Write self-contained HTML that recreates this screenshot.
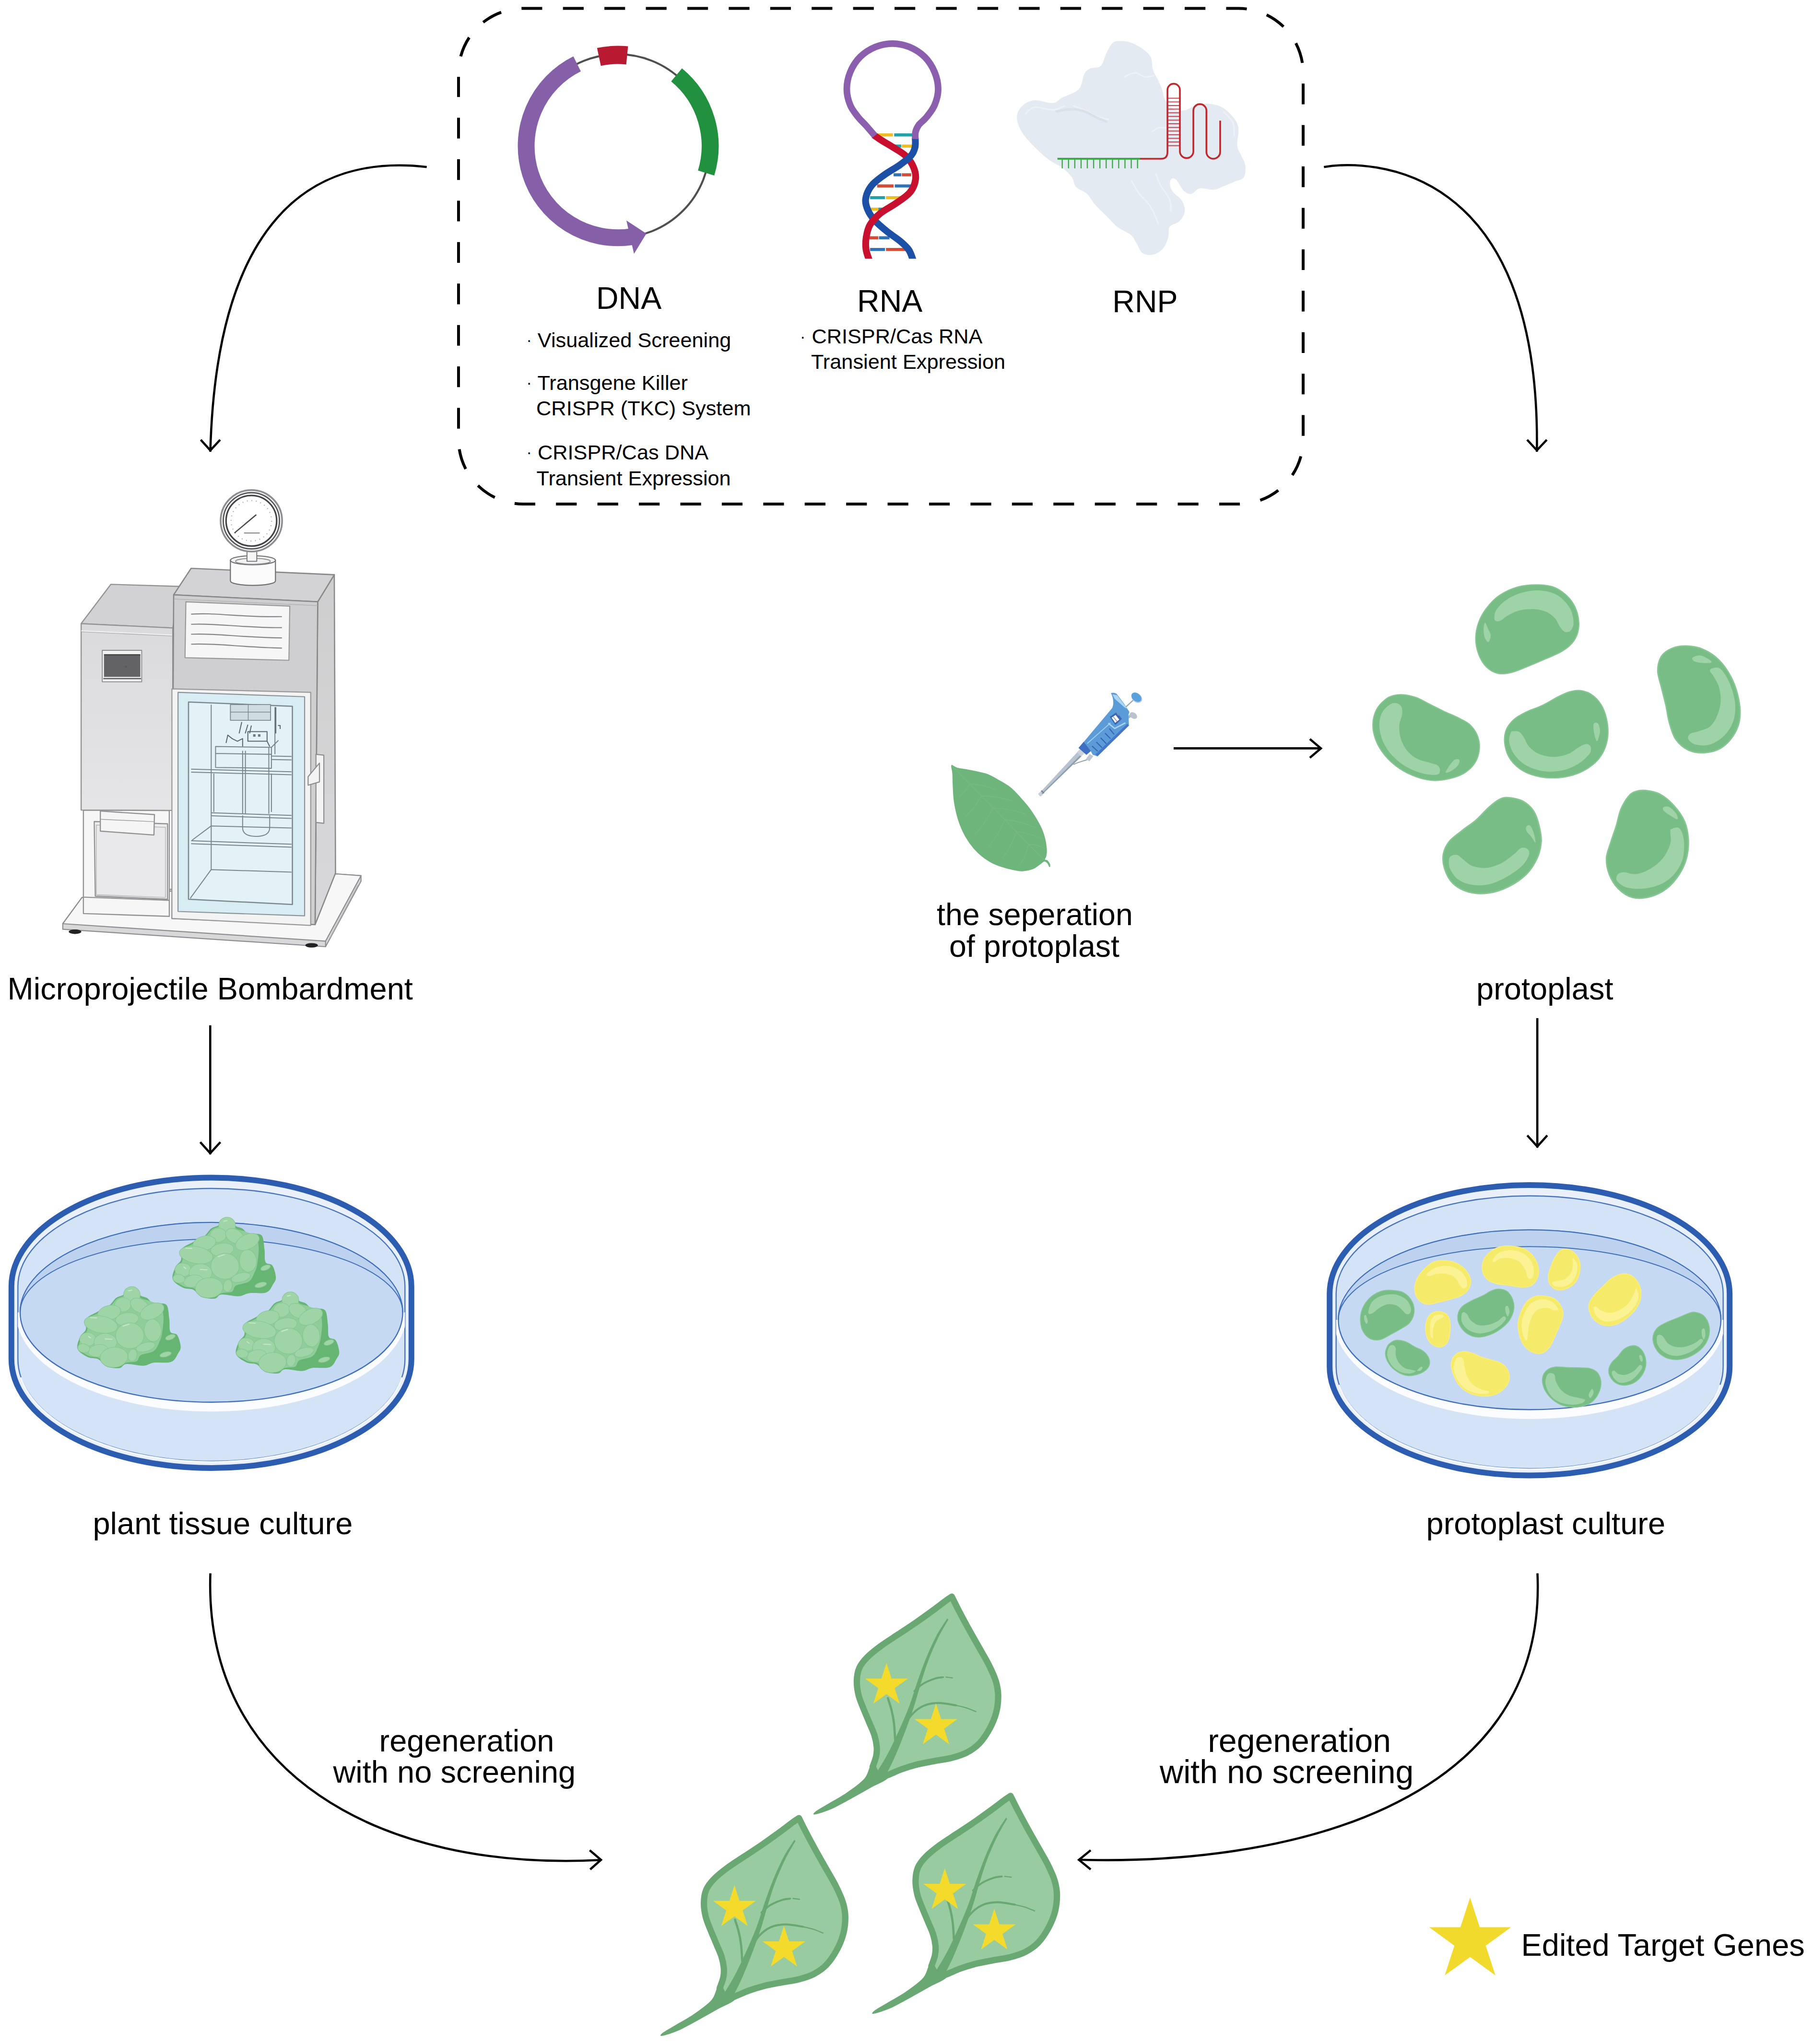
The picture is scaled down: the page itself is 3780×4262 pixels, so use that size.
<!DOCTYPE html>
<html lang="en"><head><meta charset="utf-8"><title>Transgene-free genome editing</title>
<style>
html,body{margin:0;padding:0;background:#fff;}
body{width:3780px;height:4262px;overflow:hidden;}
svg{display:block;}
text{font-family:"Liberation Sans",Arial,sans-serif;fill:#000;}
.L{font-size:65px;}
.B{font-size:43.3px;}
.ar{fill:none;stroke:#000;stroke-width:4.6;stroke-linecap:butt;stroke-linejoin:miter;}
</style></head><body>
<svg width="3780" height="4262" viewBox="0 0 3780 4262">
<rect width="3780" height="4262" fill="#fff"/>
<!-- dashed rounded box -->
<path d="M956 202 V152 A135 135 0 0 1 1091 17.5 H2582 A135 135 0 0 1 2717 152 V916 A135 135 0 0 1 2582 1051 H1091 A135 135 0 0 1 956 916 Z" fill="none" stroke="#000" stroke-width="6" stroke-dasharray="43.2 43.22" stroke-dashoffset="1.5"/>
<!-- arrows -->
<g class="ar">
<path d="M889.7 348.2 C647.4 320.1 451.3 461 438.5 942"/>
<path d="M418.5 917 L438.5 939 L459 917"/>
<path d="M2760.3 348.2 C2853.2 332.7 3212.8 336.6 3204.3 942"/>
<path d="M3184 917 L3204.3 939 L3225 917"/>
<path d="M438.3 2138 V2407"/>
<path d="M417.5 2381.5 L438.3 2404.5 L459.5 2381.5"/>
<path d="M3205.2 2123 V2393"/>
<path d="M3184.3 2367.5 L3205.2 2390.5 L3226 2367.5"/>
<path d="M2447 1560.4 H2755"/>
<path d="M2731 1541 L2754 1560.4 L2731 1580"/>
<path d="M438.6 3280.7 C424 3696.1 790.3 3902.7 1253 3878.3"/>
<path d="M1229.5 3858 L1253 3878 L1230.5 3898"/>
<path d="M3205.5 3280.7 C3228.2 3773.4 2664.8 3889.9 2250 3877.8"/>
<path d="M2274 3858 L2249.5 3878 L2274 3898"/>
</g>
<!-- labels -->
<g class="L">
<text x="1243" y="644" style="font-size:64.5px">DNA</text>
<text x="1787.1" y="650" style="font-size:64.5px">RNA</text>
<text x="2319.3" y="651" style="font-size:64.5px">RNP</text>
<text x="15.6" y="2084.3">Microprojectile Bombardment</text>
<text x="3078" y="2084.3">protoplast</text>
<text x="1953" y="1928.5" style="font-size:64.5px">the seperation</text>
<text x="1979" y="1994.5" style="font-size:64.5px">of protoplast</text>
<text x="193.4" y="3199">plant tissue culture</text>
<text x="2973.5" y="3199">protoplast culture</text>
<text x="790.5" y="3652.2">regeneration</text>
<text x="694.4" y="3716.7">with no screening</text>
<text x="2518.2" y="3652.5" style="font-size:68px">regeneration</text>
<text x="2418.1" y="3717.5" style="font-size:68px">with no screening</text>
<text x="3171.4" y="4078.3">Edited Target Genes</text>
</g>
<g class="B">
<text x="1120.8" y="724">Visualized Screening</text>
<text x="1120.4" y="812.5">Transgene Killer</text>
<text x="1118.1" y="866">CRISPR (TKC) System</text>
<text x="1121" y="958.3">CRISPR/Cas DNA</text>
<text x="1118.6" y="1011.6">Transient Expression</text>
<text x="1692.4" y="716.2">CRISPR/Cas RNA</text>
<text x="1691" y="769">Transient Expression</text>
</g>
<g style="font-size:34px">
<text x="1097.5" y="720">·</text><text x="1097.5" y="808.5">·</text><text x="1097.5" y="954">·</text><text x="1668" y="712.5">·</text>
</g>

<!-- plasmid -->
<circle cx="1288.3" cy="304.5" r="191.3" fill="none" stroke="#4f4f4f" stroke-width="4.2"/>
<path d="M1203.2 133.2 A191.3 191.3 0 0 0 1316.6 493.7" fill="none" stroke="#8560a8" stroke-width="35"/>
<path d="M1306.0 459.8 L1347.6 486.9 L1321.9 529.3 Z" fill="#8560a8"/>
<path d="M1248.8 118.7 A190.0 190.0 0 0 1 1307.5 115.5" fill="none" stroke="#b71a31" stroke-width="38"/>
<path d="M1410.6 156.1 A192.3 192.3 0 0 1 1472.2 360.7" fill="none" stroke="#21913f" stroke-width="35.5"/>
<!-- RNA hairpin -->
<rect x="1827.6" y="278.1" width="34.2" height="6.4" fill="#efbd22"/>
<rect x="1864.3" y="278.1" width="39.1" height="6.4" fill="#22a2a8"/>
<rect x="1864.3" y="301.4" width="14.7" height="6.4" fill="#22a2a8"/>
<rect x="1880.2" y="301.4" width="22.0" height="6.4" fill="#efbd22"/>
<rect x="1863.1" y="361.3" width="15.9" height="6.4" fill="#2f74b8"/>
<rect x="1880.2" y="361.3" width="19.6" height="6.4" fill="#d24d38"/>
<rect x="1828.8" y="384.5" width="34.2" height="6.4" fill="#d24d38"/>
<rect x="1865.5" y="384.5" width="36.7" height="6.4" fill="#2f74b8"/>
<rect x="1814.1" y="409.0" width="31.1" height="6.4" fill="#22a2a8"/>
<rect x="1847.2" y="409.0" width="41.6" height="6.4" fill="#efbd22"/>
<rect x="1814.1" y="432.9" width="17.1" height="6.4" fill="#efbd22"/>
<rect x="1831.3" y="432.9" width="22.0" height="6.4" fill="#22a2a8"/>
<rect x="1812.9" y="492.6" width="18.3" height="6.4" fill="#d24d38"/>
<rect x="1832.5" y="492.6" width="22.0" height="6.4" fill="#2f74b8"/>
<rect x="1814.1" y="517.0" width="31.1" height="6.4" fill="#2f74b8"/>
<rect x="1847.2" y="517.0" width="41.6" height="6.4" fill="#d24d38"/>
<clipPath id="hpclip"><rect x="1700" y="0" width="320" height="539.4"/></clipPath>
<clipPath id="hpA"><rect x="1700" y="0" width="320" height="403.0"/></clipPath>
<clipPath id="hpB"><rect x="1700" y="402.4" width="320" height="137.0"/></clipPath>
<path d="M1821.5 281.3 C1824.1 283.1 1830.7 288.0 1837.4 292.3 C1844.1 296.6 1853.3 301.5 1861.8 307.0 C1870.4 312.5 1881.6 318.4 1888.7 325.3 C1895.9 332.3 1901.3 340.4 1904.6 348.6 C1908.0 356.7 1910.0 365.5 1908.8 374.2 C1907.6 383.0 1903.9 393.0 1897.3 401.1 C1890.7 409.3 1879.6 415.8 1869.2 423.1 C1858.8 430.5 1844.1 437.6 1834.9 445.2 C1825.8 452.7 1819.0 460.2 1814.1 468.4 C1809.3 476.5 1807.5 485.5 1806.1 494.1 C1804.7 502.6 1804.5 511.6 1805.6 519.7 C1806.6 527.9 1811.3 539.1 1812.4 543.0" fill="none" stroke="#c8102e" stroke-width="14.2" clip-path="url(#hpA)"/>
<path d="M1908.3 287.4 C1908.2 290.7 1909.2 300.9 1907.8 307.0 C1906.4 313.1 1905.0 318.0 1899.7 324.1 C1894.5 330.2 1886.1 336.7 1876.5 343.7 C1866.9 350.6 1852.3 358.3 1842.3 365.7 C1832.3 373.0 1822.8 379.5 1816.6 387.7 C1810.4 395.8 1806.1 406.2 1804.9 414.6 C1803.6 422.9 1806.1 430.3 1809.3 437.8 C1812.4 445.4 1817.4 452.5 1823.9 459.8 C1830.5 467.2 1839.6 474.7 1848.4 481.8 C1857.1 489.0 1868.8 496.1 1876.5 502.6 C1884.2 509.1 1890.3 514.2 1894.8 521.0 C1899.4 527.7 1902.4 539.3 1903.9 543.0" fill="none" stroke="#1c4fa6" stroke-width="14.2" clip-path="url(#hpA)"/>
<path d="M1908.3 287.4 C1908.2 290.7 1909.2 300.9 1907.8 307.0 C1906.4 313.1 1905.0 318.0 1899.7 324.1 C1894.5 330.2 1886.1 336.7 1876.5 343.7 C1866.9 350.6 1852.3 358.3 1842.3 365.7 C1832.3 373.0 1822.8 379.5 1816.6 387.7 C1810.4 395.8 1806.1 406.2 1804.9 414.6 C1803.6 422.9 1806.1 430.3 1809.3 437.8 C1812.4 445.4 1817.4 452.5 1823.9 459.8 C1830.5 467.2 1839.6 474.7 1848.4 481.8 C1857.1 489.0 1868.8 496.1 1876.5 502.6 C1884.2 509.1 1890.3 514.2 1894.8 521.0 C1899.4 527.7 1902.4 539.3 1903.9 543.0" fill="none" stroke="#1c4fa6" stroke-width="14.2" clip-path="url(#hpB)"/>
<path d="M1821.5 281.3 C1824.1 283.1 1830.7 288.0 1837.4 292.3 C1844.1 296.6 1853.3 301.5 1861.8 307.0 C1870.4 312.5 1881.6 318.4 1888.7 325.3 C1895.9 332.3 1901.3 340.4 1904.6 348.6 C1908.0 356.7 1910.0 365.5 1908.8 374.2 C1907.6 383.0 1903.9 393.0 1897.3 401.1 C1890.7 409.3 1879.6 415.8 1869.2 423.1 C1858.8 430.5 1844.1 437.6 1834.9 445.2 C1825.8 452.7 1819.0 460.2 1814.1 468.4 C1809.3 476.5 1807.5 485.5 1806.1 494.1 C1804.7 502.6 1804.5 511.6 1805.6 519.7 C1806.6 527.9 1811.3 539.1 1812.4 543.0" fill="none" stroke="#c8102e" stroke-width="14.2" clip-path="url(#hpB)"/>
<path d="M1908.3 289.9 C1908.4 287.4 1907.6 280.1 1908.8 275.2 C1910.0 270.3 1911.8 265.6 1915.6 260.5 C1919.4 255.4 1926.0 251.6 1931.5 244.6 C1937.0 237.7 1944.6 228.7 1948.6 219.0 C1952.7 209.2 1956.0 197.4 1956.0 185.9 C1956.0 174.5 1953.3 161.7 1948.6 150.5 C1944.0 139.3 1936.6 127.5 1927.9 118.7 C1919.1 109.9 1907.3 102.6 1896.1 97.9 C1884.9 93.3 1872.4 90.8 1860.6 90.8 C1848.8 90.8 1836.4 93.3 1825.2 97.9 C1813.9 102.6 1802.1 109.9 1793.4 118.7 C1784.6 127.5 1777.2 139.3 1772.6 150.5 C1767.9 161.7 1765.5 174.5 1765.5 185.9 C1765.5 197.4 1768.7 209.4 1772.6 219.0 C1776.4 228.5 1783.2 236.5 1788.5 243.4 C1793.8 250.3 1798.5 253.9 1804.4 260.5 C1810.3 267.1 1820.7 279.3 1823.9 283.0" fill="none" stroke="#8b5fae" stroke-width="13.8"/>
<!-- RNP -->
<path d="M2329.5 85.8 C2335.2 85.1 2344.8 85.3 2352.4 87.2 C2360.1 89.2 2367.7 92.3 2375.3 97.3 C2383.0 102.3 2393.5 109.2 2398.3 117.4 C2403.1 125.5 2401.4 137.9 2404.0 146.0 C2406.7 154.2 2411.0 159.4 2414.1 166.1 C2417.2 172.8 2420.0 179.0 2422.7 186.2 C2425.3 193.4 2425.3 202.0 2429.8 209.1 C2434.4 216.3 2442.8 225.9 2449.9 229.2 C2457.1 232.6 2465.7 230.9 2472.9 229.2 C2480.0 227.6 2485.3 221.3 2492.9 219.2 C2500.6 217.0 2509.7 215.6 2518.8 216.3 C2527.8 217.0 2538.8 218.9 2547.4 223.5 C2556.0 228.0 2564.6 236.4 2570.4 243.6 C2576.1 250.7 2580.3 256.5 2581.9 266.5 C2583.4 276.5 2578.6 294.2 2579.6 303.8 C2580.5 313.4 2584.8 317.2 2587.6 323.9 C2590.4 330.6 2595.2 336.3 2596.2 344.0 C2597.2 351.6 2597.2 363.9 2593.3 369.8 C2589.5 375.6 2580.9 375.6 2573.3 378.9 C2565.6 382.3 2554.6 387.1 2547.4 389.8 C2540.3 392.6 2537.9 395.1 2530.2 395.6 C2522.6 396.1 2509.2 391.3 2501.5 392.7 C2493.9 394.1 2489.8 403.2 2484.3 404.2 C2478.8 405.1 2473.6 403.0 2468.6 398.4 C2463.5 393.9 2458.3 381.3 2454.2 376.9 C2450.2 372.5 2446.7 371.3 2444.2 372.1 C2441.7 372.8 2439.3 376.8 2439.3 381.2 C2439.3 385.6 2440.0 392.2 2444.2 398.4 C2448.3 404.7 2460.0 411.4 2464.3 418.5 C2468.6 425.7 2471.0 434.3 2470.0 441.5 C2469.0 448.6 2463.8 456.3 2458.5 461.5 C2453.3 466.8 2442.3 467.3 2438.4 473.0 C2434.6 478.8 2438.0 488.3 2435.6 496.0 C2433.2 503.6 2429.4 513.1 2424.1 518.9 C2418.8 524.7 2411.0 529.4 2404.0 531.0 C2397.1 532.5 2388.3 532.0 2382.5 528.1 C2376.8 524.2 2373.7 513.8 2369.6 507.4 C2365.5 501.1 2364.8 496.0 2358.1 490.2 C2351.4 484.5 2337.1 478.8 2329.5 473.0 C2321.8 467.3 2319.9 463.5 2312.2 455.8 C2304.6 448.2 2291.2 435.7 2283.6 427.1 C2275.9 418.5 2273.0 410.4 2266.4 404.2 C2259.7 398.0 2248.7 395.6 2243.4 389.8 C2238.2 384.1 2239.6 376.5 2234.8 369.8 C2230.0 363.1 2222.9 355.9 2214.7 349.7 C2206.6 343.5 2196.6 340.6 2186.0 332.5 C2175.5 324.4 2161.2 311.0 2151.6 300.9 C2142.1 290.9 2133.9 281.8 2128.7 272.2 C2123.4 262.7 2119.6 252.2 2120.1 243.6 C2120.6 235.0 2125.3 226.4 2131.6 220.6 C2137.8 214.9 2146.8 210.1 2157.4 209.1 C2167.9 208.2 2185.1 215.8 2194.7 214.9 C2204.2 213.9 2205.6 208.2 2214.7 203.4 C2223.8 198.6 2241.5 194.3 2249.1 186.2 C2256.8 178.1 2256.8 161.8 2260.6 154.7 C2264.4 147.5 2266.4 146.0 2272.1 143.2 C2277.8 140.3 2289.3 142.7 2295.0 137.4 C2300.8 132.2 2302.7 119.3 2306.5 111.6 C2310.3 104.0 2314.2 95.9 2318.0 91.6 C2321.8 87.2 2323.7 86.5 2329.5 85.8 Z" fill="#e3eaf1"/>
<path d="M2137.3 237.8 C2140.6 235.4 2147.8 224.9 2157.4 223.5 C2166.9 222.1 2184.1 229.7 2194.7 229.2 C2205.2 228.7 2216.2 222.1 2220.5 220.6" fill="none" stroke="#edf2f7" stroke-width="3"/>
<path d="M2237.7 220.6 C2241.5 222.1 2252.0 225.4 2260.6 229.2 C2269.2 233.0 2280.7 240.2 2289.3 243.6 C2297.9 246.9 2308.4 248.3 2312.2 249.3" fill="none" stroke="#edf2f7" stroke-width="3"/>
<path d="M2343.8 160.4 C2347.6 159.0 2359.6 151.8 2366.7 151.8 C2373.9 151.8 2380.1 159.4 2386.8 160.4 C2393.5 161.3 2403.6 158.0 2406.9 157.5" fill="none" stroke="#edf2f7" stroke-width="3"/>
<path d="M2401.2 275.1 C2403.6 273.7 2410.2 267.9 2415.5 266.5 C2420.8 265.1 2429.8 266.5 2432.7 266.5" fill="none" stroke="#edf2f7" stroke-width="3"/>
<path d="M2409.8 361.2 C2411.2 365.0 2413.6 375.0 2418.4 384.1 C2423.2 393.2 2434.6 406.1 2438.4 415.7 C2442.3 425.2 2440.8 437.2 2441.3 441.5" fill="none" stroke="#edf2f7" stroke-width="3"/>
<path d="M2358.1 375.5 C2361.0 380.3 2368.7 395.1 2375.3 404.2 C2382.0 413.3 2391.6 419.5 2398.3 430.0 C2405.0 440.5 2412.6 461.1 2415.5 467.3" fill="none" stroke="#edf2f7" stroke-width="3"/>
<path d="M2550.3 232.1 C2553.7 235.9 2566.6 246.4 2570.4 255.0 C2574.2 263.6 2572.8 278.9 2573.3 283.7" fill="none" stroke="#edf2f7" stroke-width="3"/>
<path d="M2203.3 232.1 C2208.5 231.4 2225.2 227.8 2234.8 227.8 C2244.4 227.8 2252.5 229.5 2260.6 232.1 C2268.7 234.7 2275.9 240.0 2283.6 243.6 C2291.2 247.2 2302.7 251.9 2306.5 253.6" fill="none" stroke="#d9e2eb" stroke-width="5" stroke-linecap="round"/>
<path d="M2204.7 331.0 H2377.6" stroke="#3dab4a" stroke-width="4.2" fill="none"/>
<path d="M2214.7 331.0 V351.1 M2227.8 331.0 V351.1 M2240.9 331.0 V351.1 M2254.0 331.0 V351.1 M2267.0 331.0 V351.1 M2280.1 331.0 V351.1 M2293.2 331.0 V351.1 M2306.3 331.0 V351.1 M2319.4 331.0 V351.1 M2332.4 331.0 V351.1 M2345.5 331.0 V351.1 M2358.6 331.0 V351.1 M2371.7 331.0 V351.1 " stroke="#3dab4a" stroke-width="2.4" fill="none"/>
<path d="M2377.1 331.0 H2421.2 Q2434.1 331.0 2434.1 316.7 V187.6 A12.9 12.9 0 0 1 2460.0 187.6 V316.7 A14.1 14.1 0 0 0 2488.1 316.7 V230.7 A13.6 13.6 0 0 1 2515.3 230.7 V316.7 A14.3 14.3 0 0 0 2544.0 316.7 V251.6" stroke="#c1272d" stroke-width="3.6" fill="none"/>
<path d="M2435.0 204.8 H2459.1 M2435.0 212.4 H2459.1 M2435.0 220.0 H2459.1 M2435.0 227.6 H2459.1 M2435.0 235.2 H2459.1 M2435.0 242.8 H2459.1 M2435.0 250.4 H2459.1 M2435.0 258.0 H2459.1 M2435.0 265.7 H2459.1 M2435.0 273.3 H2459.1 M2435.0 280.9 H2459.1 M2435.0 288.5 H2459.1 M2435.0 296.1 H2459.1 M2435.0 303.7 H2459.1 " stroke="#c1272d" stroke-width="2" fill="none" opacity="0.85"/>
<!-- gene gun machine -->
<g transform="translate(120,1000) scale(0.36403)" stroke-linejoin="round">
<defs>
<linearGradient id="mgL" x1="0" y1="0" x2="0" y2="1"><stop offset="0" stop-color="#dadadc"/><stop offset="1" stop-color="#e5e5e7"/></linearGradient>
<linearGradient id="mgR" x1="0" y1="0" x2="0" y2="1"><stop offset="0" stop-color="#cececf"/><stop offset="1" stop-color="#d8d8da"/></linearGradient>
</defs>
<!-- base plate -->
<g transform="translate(0,1153.7)">
<path d="M30 1390 L30 1422 L1535 1522 L1738 1147 L1738 1115 L1600 1105 L140 1240 Z" fill="#d8d8da" stroke="#8d8d8f" stroke-width="6"/>
<path d="M30 1390 L140 1240 L700 1200 L1600 1105 L1738 1115 L1535 1490 Z" fill="#f7f7f8" stroke="#8d8d8f" stroke-width="6"/>
<path d="M1535 1490 L1535 1522" stroke="#8d8d8f" stroke-width="6"/>
<path d="M1560 1470 L1720 1170" stroke="#b5b5b7" stroke-width="5" fill="none"/>
<ellipse cx="100" cy="1436" rx="36" ry="13" fill="#222"/>
<ellipse cx="1455" cy="1514" rx="36" ry="13" fill="#222"/>
</g>
<!-- left block -->
<path d="M305 600 L700 612 L660 850 L135 825 Z" fill="#d2d2d4" stroke="#929294" stroke-width="6.5"/>
<path d="M135 825 L660 850 L660 1895 L135 1893 Z" fill="url(#mgL)" stroke="#929294" stroke-width="6.5"/>
<path d="M135 866 L655 890" stroke="#f0f0f0" stroke-width="5" fill="none"/>
<path d="M135 872 L655 896" stroke="#a8a8aa" stroke-width="3" fill="none"/>
<!-- screen -->
<rect x="256" y="978" width="226" height="180" fill="#f0f0f0" stroke="#8a8a8c" stroke-width="5"/>
<rect x="266" y="1004" width="208" height="126" fill="#636365"/>
<path d="M266 1004 H474" stroke="#4a4a4c" stroke-width="8"/>
<path d="M262 1140 H478" stroke="#5a5a5c" stroke-width="7"/>
<circle cx="392" cy="1072" r="5" fill="#555"/>
<!-- lower left white -->
<g transform="translate(0,1153.7)">
<path d="M148 740 L640 742 L640 1348 L148 1332 Z" fill="#f6f6f7" stroke="#929294" stroke-width="6.5"/>
<path d="M148 1238 L640 1256" stroke="#929294" stroke-width="6.5" fill="none"/>
<path d="M210 805 L630 818 L630 1250 L216 1232 Z" fill="#ececee" stroke="#929294" stroke-width="6.5"/>
<path d="M222 825 L618 838 L618 1240 L222 1224 Z" fill="#e9e9eb" stroke="#b5b5b7" stroke-width="4"/>
<path d="M245 745 L555 765 L552 882 L245 860 Z" fill="#f5f5f6" stroke="#929294" stroke-width="6.5"/>
<path d="M245 792 L555 806" stroke="#9a9a9c" stroke-width="4" fill="none"/>
</g>
<!-- right tower -->
<path d="M1490 700 L1585 545 L1592 2254 L1475 2549 Z" fill="url(#mgR)" stroke="#88888a" stroke-width="7"/>
<path d="M765 508 L1585 545 L1490 700 L665 660 Z" fill="#d3d3d5" stroke="#88888a" stroke-width="7"/>
<path d="M665 660 L1490 700 L1475 2549 L655 2514 Z" fill="#cfcfd1" stroke="#88888a" stroke-width="7"/>
<path d="M668 684 L1488 722" stroke="#b2b2b4" stroke-width="4" fill="none"/>
<!-- white panel -->
<path d="M735 700 L1330 725 L1325 1035 L730 1020 Z" fill="#f6f6f7" stroke="#98989a" stroke-width="6"/>
<path d="M765 771 C900 760 1050 790 1285 785 M765 829 C900 820 1050 850 1285 848 M765 886 C900 878 1050 905 1285 907 M765 943 C900 936 1050 960 1285 965" stroke="#858587" stroke-width="6" fill="none"/>
<!-- door -->
<g transform="translate(0,1153.7)">
<path d="M655 45 L1450 65 L1450 1400 L655 1360 Z" fill="#f3f3f4" stroke="#98989a" stroke-width="6"/>
<path d="M690 65 L1415 90 L1415 1345 L690 1320 Z" fill="#d8edf3" stroke="#8a9498" stroke-width="6"/>
<path d="M750 120 L1345 145 L1345 1280 L750 1250 Z" fill="#e3f2f7" stroke="#7d888c" stroke-width="7"/>
<g fill="none" stroke="#7b868a" stroke-width="5.5">
<path d="M880 135 V1080 M1245 150 V420"/>
<path d="M880 1080 L1340 1095 M880 1080 L760 1245"/>
<path d="M765 505 L1340 520 M765 522 L1340 537"/>
<path d="M880 755 L1340 770 M880 772 L1340 787"/>
<path d="M765 915 L1340 935 M765 932 L1340 952 M880 830 L770 912 M880 830 L1340 842"/>
<path d="M905 375 L1225 380 L1225 500 L905 495 Z M905 415 L1225 420"/>
<path d="M1225 380 L1265 340 M1225 430 L1340 432 M1225 450 L1340 452"/>
<path d="M1060 400 V760 M1076 400 V760 M1210 380 V760 M895 530 V750 M1225 530 V750"/>
<path d="M1060 770 V840 Q1060 890 1137 890 Q1215 890 1215 840 V770"/>
</g>
<path d="M990 135 H1220 V225 H990 Z" fill="#cfdde2" stroke="#7d888c" stroke-width="5"/>
<path d="M990 178 H1220 M1092 135 V225" stroke="#7d888c" stroke-width="4" fill="none"/>
<g fill="none" stroke="#5c666a" stroke-width="5.5">
<path d="M965 355 L975 310 L1000 330 L1030 345 L1060 330 L1060 375"/>
<path d="M1040 300 L1055 235 M1075 300 L1090 250 M1100 300 L1110 255"/>
<path d="M1090 290 H1200 V345 H1090 Z M1200 345 L1215 375"/>
<path d="M1250 150 V300 M1262 255 H1275 V275"/>
</g>
<rect x="1120" y="305" width="14" height="14" fill="#6f7a7e"/><rect x="1148" y="305" width="14" height="14" fill="#6f7a7e"/>
<!-- handle -->
<path d="M1480 420 L1525 425 L1525 815 L1480 810 Z" fill="#f3f3f4" stroke="#8d8d8f" stroke-width="6"/>
<path d="M1435 548 L1500 470 L1500 578 L1435 597 Z" fill="#f3f3f4" stroke="#8d8d8f" stroke-width="6"/>
</g>
<!-- gauge -->
<path d="M990 462 V580 A129 26 0 0 0 1248 580 V462 Z" fill="#fbfbfb" stroke="#6e6e70" stroke-width="6"/>
<ellipse cx="1119" cy="462" rx="129" ry="26" fill="#f1f1f2" stroke="#6e6e70" stroke-width="6"/>
<ellipse cx="1119" cy="468" rx="100" ry="17" fill="none" stroke="#8a8a8c" stroke-width="5"/>
<rect x="1085" y="396" width="56" height="72" fill="#f6f6f7" stroke="#6e6e70" stroke-width="5"/>
<circle cx="1110" cy="236" r="176" fill="#fff" stroke="#8e8e90" stroke-width="10"/>
<circle cx="1110" cy="236" r="161" fill="#fff" stroke="#5a5a5c" stroke-width="8"/>
<circle cx="1110" cy="236" r="145" fill="#fff" stroke="#444446" stroke-width="9"/>
<circle cx="1110" cy="236" r="116" fill="none" stroke="#b0b0b2" stroke-width="7" stroke-dasharray="5 21"/>
<path d="M1013 306 L1138 201" stroke="#4a4a4c" stroke-width="7"/>
<path d="M1068 306 H1158" stroke="#6a6a6c" stroke-width="5"/>
</g>

<!-- single leaf -->
<g transform="translate(1960,1570) scale(0.14341)">
<path d="M165.0 178.0 C177.0 163.8 210.8 204.7 250.0 215.0 C289.2 225.3 350.0 230.8 400.0 240.0 C450.0 249.2 500.0 258.3 550.0 270.0 C600.0 281.7 650.0 290.0 700.0 310.0 C750.0 330.0 800.0 361.7 850.0 390.0 C900.0 418.3 958.3 450.0 1000.0 480.0 C1041.7 510.0 1066.7 536.7 1100.0 570.0 C1133.3 603.3 1166.7 641.7 1200.0 680.0 C1233.3 718.3 1266.7 755.0 1300.0 800.0 C1333.3 845.0 1370.0 900.0 1400.0 950.0 C1430.0 1000.0 1458.3 1050.0 1480.0 1100.0 C1501.7 1150.0 1518.0 1200.0 1530.0 1250.0 C1542.0 1300.0 1549.5 1358.3 1552.0 1400.0 C1554.5 1441.7 1549.5 1475.3 1545.0 1500.0 C1540.5 1524.7 1522.2 1537.7 1525.0 1548.0 C1527.8 1558.3 1549.5 1550.0 1562.0 1562.0 C1574.5 1574.0 1595.0 1603.3 1600.0 1620.0 C1605.0 1636.7 1598.7 1664.5 1592.0 1662.0 C1585.3 1659.5 1572.8 1618.7 1560.0 1605.0 C1547.2 1591.3 1533.3 1576.7 1515.0 1580.0 C1496.7 1583.3 1477.5 1606.7 1450.0 1625.0 C1422.5 1643.3 1391.7 1674.2 1350.0 1690.0 C1308.3 1705.8 1250.0 1718.3 1200.0 1720.0 C1150.0 1721.7 1100.0 1710.0 1050.0 1700.0 C1000.0 1690.0 950.0 1676.7 900.0 1660.0 C850.0 1643.3 800.0 1626.7 750.0 1600.0 C700.0 1573.3 645.0 1536.7 600.0 1500.0 C555.0 1463.3 516.7 1423.3 480.0 1380.0 C443.3 1336.7 410.0 1290.0 380.0 1240.0 C350.0 1190.0 323.3 1136.7 300.0 1080.0 C276.7 1023.3 256.7 963.3 240.0 900.0 C223.3 836.7 209.2 766.7 200.0 700.0 C190.8 633.3 188.7 566.7 185.0 500.0 C181.3 433.3 181.3 353.7 178.0 300.0 C174.7 246.3 153.0 192.2 165.0 178.0 Z" fill="#6eb57b"/>
<path d="M175.0 190.0 C229.2 245.0 379.2 396.7 500.0 520.0 C620.8 643.3 775.0 801.7 900.0 930.0 C1025.0 1058.3 1146.7 1185.0 1250.0 1290.0 C1353.3 1395.0 1475.0 1515.0 1520.0 1560.0 M430 450 Q370.0 575.0 270 640 M430 450 Q625.0 455.0 820 540 M600 625 Q500.0 807.5 360 930 M600 625 Q825.0 622.5 1050 700 M770 800 Q660.0 1020.0 510 1180 M770 800 Q1005.0 805.0 1240 890 M940 970 Q840.0 1200.0 700 1370 M940 970 Q1170.0 990.0 1400 1090 M1110 1145 Q1030.0 1367.5 910 1530 M1110 1145 Q1300.0 1157.5 1490 1250 M1290 1330 Q1240.0 1515.0 1150 1640 M1290 1330 Q1412.5 1325.0 1535 1400" fill="none" stroke="#78bc85" stroke-width="8"/>
</g>
<!-- pipette -->
<g transform="translate(2150,1430) scale(0.13789)">
<path d="M108 1640 L138 1670 L758 1068 L700 1000 Z" fill="#b7c4d0"/>
<path d="M127 1660 L138 1670 L758 1068 L742 1050 Z" fill="#8f9ca9"/>
<path d="M104 1632 L146 1674 L176 1646 L134 1604 Z" fill="#c8d2db"/>
<path d="M146 1592 L186 1632 L200 1618 L160 1578 Z" fill="#7d8893"/>
<path d="M850 1115 C800 1135 720 1150 640 1190" fill="none" stroke="#8f9ca9" stroke-width="14"/>
<path d="M885 1030 L940 1065 L880 1140 L825 1110 Z" fill="#bcc8d3"/>
<path d="M690 1005 L745 950 L808 1015 L758 1070 Z" fill="#cad3db"/>
<path d="M715 940 L795 845 L905 985 L835 1045 Z" fill="#3f6fc2"/>
<!-- plunger -->
<path d="M1425 325 L1545 215" stroke="#9aa7b3" stroke-width="18" fill="none"/>
<ellipse cx="1596" cy="182" rx="90" ry="68" transform="rotate(40 1596 182)" fill="#b5cde1"/>
<ellipse cx="1590" cy="172" rx="84" ry="60" transform="rotate(40 1590 172)" fill="#5aa0dc"/>
<!-- ejector button -->
<path d="M1430 500 L1520 440" stroke="#aab5c0" stroke-width="40" fill="none"/>
<ellipse cx="1545" cy="450" rx="62" ry="44" transform="rotate(35 1545 450)" fill="#b9c3cd"/>
<!-- body -->
<path d="M795 848 L1225 335 C1255 270 1240 170 1205 110 C1240 100 1275 108 1295 125 L1400 265 L1485 395 L1470 440 L1478 600 L1002 1066 L930 1042 L900 985 Z" fill="#5b9bd8"/>
<path d="M1478 600 L1002 1066 L972 1036 L1452 574 Z" fill="#4576cc"/>
<path d="M1228 128 L1298 142 L1452 345 L1415 330 L1262 195 Z" fill="#aad6f3"/>
<path d="M848 872 L1200 560" stroke="#9fd0f0" stroke-width="13" fill="none"/>
<path d="M1165 565 L1262 645 L1425 560" stroke="#a6d4f2" stroke-width="20" fill="none" stroke-linejoin="round"/>
<path d="M1188 470 L1292 398 L1372 500 L1272 592 Z" fill="#3a66b8"/>
<path d="M1216 482 L1276 440 L1332 512 L1270 560 Z" fill="#fff"/>
<path d="M1240 470 L1300 540 M1290 400 L1320 450" stroke="#8b98a5" stroke-width="12" fill="none"/>
<path d="M1185 650 L1250 730 M1120 720 L1195 795 M1055 790 L1130 870 M990 855 L1065 930 M925 915 L1000 985" stroke="#3560b0" stroke-width="15" fill="none" stroke-linecap="round"/>
</g>

<!-- protoplasts -->
<g transform="translate(2840,1200) scale(0.29785)">
<path d="M1230.0 65.0 C1273.3 65.8 1313.3 69.2 1350.0 85.0 C1386.7 100.8 1424.2 130.8 1450.0 160.0 C1475.8 189.2 1494.2 225.0 1505.0 260.0 C1515.8 295.0 1519.2 336.7 1515.0 370.0 C1510.8 403.3 1499.2 433.3 1480.0 460.0 C1460.8 486.7 1433.3 509.2 1400.0 530.0 C1366.7 550.8 1321.7 566.7 1280.0 585.0 C1238.3 603.3 1190.0 624.2 1150.0 640.0 C1110.0 655.8 1073.3 672.5 1040.0 680.0 C1006.7 687.5 978.3 691.7 950.0 685.0 C921.7 678.3 892.5 662.5 870.0 640.0 C847.5 617.5 827.5 583.3 815.0 550.0 C802.5 516.7 795.0 476.7 795.0 440.0 C795.0 403.3 802.5 365.0 815.0 330.0 C827.5 295.0 845.8 261.7 870.0 230.0 C894.2 198.3 923.3 165.0 960.0 140.0 C996.7 115.0 1045.0 92.5 1090.0 80.0 C1135.0 67.5 1186.7 64.2 1230.0 65.0 Z" fill="#78bd85" stroke="#86c693" stroke-width="8"/>
<path d="M925.0 300.0 C925.0 286.7 925.8 261.7 940.0 240.0 C954.2 218.3 980.0 190.0 1010.0 170.0 C1040.0 150.0 1080.0 130.8 1120.0 120.0 C1160.0 109.2 1208.3 101.7 1250.0 105.0 C1291.7 108.3 1335.8 119.2 1370.0 140.0 C1404.2 160.8 1436.7 198.3 1455.0 230.0 C1473.3 261.7 1479.2 304.2 1480.0 330.0 C1480.8 355.8 1470.0 374.2 1460.0 385.0 C1450.0 395.8 1432.5 399.2 1420.0 395.0 C1407.5 390.8 1396.7 375.8 1385.0 360.0 C1373.3 344.2 1365.8 317.5 1350.0 300.0 C1334.2 282.5 1315.0 265.8 1290.0 255.0 C1265.0 244.2 1231.7 236.7 1200.0 235.0 C1168.3 233.3 1130.0 237.5 1100.0 245.0 C1070.0 252.5 1041.7 268.3 1020.0 280.0 C998.3 291.7 983.3 308.3 970.0 315.0 C956.7 321.7 947.5 322.5 940.0 320.0 C932.5 317.5 925.0 313.3 925.0 300.0 Z" fill="#9dd3a7"/>
<path d="M860.0 330.0 C865.0 328.3 873.3 355.0 880.0 370.0 C886.7 385.0 899.2 404.2 900.0 420.0 C900.8 435.8 891.7 461.7 885.0 465.0 C878.3 468.3 865.8 454.2 860.0 440.0 C854.2 425.8 850.0 398.3 850.0 380.0 C850.0 361.7 855.0 331.7 860.0 330.0 Z" fill="#9dd3a7"/>
<path d="M290.0 835.0 C316.7 837.5 350.0 844.2 380.0 855.0 C410.0 865.8 438.3 884.2 470.0 900.0 C501.7 915.8 535.0 933.3 570.0 950.0 C605.0 966.7 648.3 983.3 680.0 1000.0 C711.7 1016.7 738.3 1028.3 760.0 1050.0 C781.7 1071.7 800.0 1101.7 810.0 1130.0 C820.0 1158.3 823.3 1190.0 820.0 1220.0 C816.7 1250.0 806.7 1283.3 790.0 1310.0 C773.3 1336.7 748.3 1361.7 720.0 1380.0 C691.7 1398.3 656.7 1410.8 620.0 1420.0 C583.3 1429.2 540.0 1436.7 500.0 1435.0 C460.0 1433.3 420.0 1424.2 380.0 1410.0 C340.0 1395.8 296.7 1375.0 260.0 1350.0 C223.3 1325.0 187.5 1293.3 160.0 1260.0 C132.5 1226.7 109.2 1186.7 95.0 1150.0 C80.8 1113.3 74.2 1075.0 75.0 1040.0 C75.8 1005.0 85.8 968.3 100.0 940.0 C114.2 911.7 140.0 886.7 160.0 870.0 C180.0 853.3 198.3 845.8 220.0 840.0 C241.7 834.2 263.3 832.5 290.0 835.0 Z" fill="#78bd85" stroke="#86c693" stroke-width="8"/>
<path d="M200.0 900.0 C182.5 910.8 153.3 935.0 140.0 960.0 C126.7 985.0 119.2 1016.7 120.0 1050.0 C120.8 1083.3 130.0 1125.0 145.0 1160.0 C160.0 1195.0 182.5 1230.0 210.0 1260.0 C237.5 1290.0 275.0 1319.2 310.0 1340.0 C345.0 1360.8 385.0 1375.8 420.0 1385.0 C455.0 1394.2 499.2 1397.5 520.0 1395.0 C540.8 1392.5 543.3 1380.8 545.0 1370.0 C546.7 1359.2 542.5 1340.0 530.0 1330.0 C517.5 1320.0 495.0 1318.3 470.0 1310.0 C445.0 1301.7 406.7 1295.0 380.0 1280.0 C353.3 1265.0 328.3 1243.3 310.0 1220.0 C291.7 1196.7 278.3 1168.3 270.0 1140.0 C261.7 1111.7 258.3 1078.3 260.0 1050.0 C261.7 1021.7 277.5 991.7 280.0 970.0 C282.5 948.3 280.8 932.5 275.0 920.0 C269.2 907.5 257.5 898.3 245.0 895.0 C232.5 891.7 217.5 889.2 200.0 900.0 Z" fill="#9dd3a7"/>
<path d="M585.0 1375.0 C588.3 1362.5 624.2 1309.2 640.0 1295.0 C655.8 1280.8 675.0 1284.2 680.0 1290.0 C685.0 1295.8 680.0 1316.7 670.0 1330.0 C660.0 1343.3 634.2 1362.5 620.0 1370.0 C605.8 1377.5 581.7 1387.5 585.0 1375.0 Z" fill="#9dd3a7"/>
<path d="M1520.0 805.0 C1545.0 807.5 1575.0 814.2 1600.0 830.0 C1625.0 845.8 1651.7 871.7 1670.0 900.0 C1688.3 928.3 1701.7 963.3 1710.0 1000.0 C1718.3 1036.7 1723.3 1081.7 1720.0 1120.0 C1716.7 1158.3 1706.7 1196.7 1690.0 1230.0 C1673.3 1263.3 1650.0 1294.2 1620.0 1320.0 C1590.0 1345.8 1550.0 1369.2 1510.0 1385.0 C1470.0 1400.8 1423.3 1410.8 1380.0 1415.0 C1336.7 1419.2 1291.7 1417.5 1250.0 1410.0 C1208.3 1402.5 1165.0 1390.0 1130.0 1370.0 C1095.0 1350.0 1061.7 1320.0 1040.0 1290.0 C1018.3 1260.0 1005.8 1223.3 1000.0 1190.0 C994.2 1156.7 995.0 1120.0 1005.0 1090.0 C1015.0 1060.0 1035.8 1032.5 1060.0 1010.0 C1084.2 987.5 1116.7 971.7 1150.0 955.0 C1183.3 938.3 1223.3 927.5 1260.0 910.0 C1296.7 892.5 1338.3 865.8 1370.0 850.0 C1401.7 834.2 1425.0 822.5 1450.0 815.0 C1475.0 807.5 1495.0 802.5 1520.0 805.0 Z" fill="#78bd85" stroke="#86c693" stroke-width="8"/>
<path d="M1040.0 1100.0 C1035.0 1113.3 1025.0 1143.3 1030.0 1170.0 C1035.0 1196.7 1050.0 1233.3 1070.0 1260.0 C1090.0 1286.7 1116.7 1311.7 1150.0 1330.0 C1183.3 1348.3 1228.3 1364.2 1270.0 1370.0 C1311.7 1375.8 1360.0 1373.3 1400.0 1365.0 C1440.0 1356.7 1478.3 1339.2 1510.0 1320.0 C1541.7 1300.8 1575.0 1270.0 1590.0 1250.0 C1605.0 1230.0 1603.3 1211.7 1600.0 1200.0 C1596.7 1188.3 1583.3 1180.0 1570.0 1180.0 C1556.7 1180.0 1541.7 1188.3 1520.0 1200.0 C1498.3 1211.7 1470.0 1238.3 1440.0 1250.0 C1410.0 1261.7 1373.3 1270.0 1340.0 1270.0 C1306.7 1270.0 1268.3 1261.7 1240.0 1250.0 C1211.7 1238.3 1188.3 1220.0 1170.0 1200.0 C1151.7 1180.0 1141.7 1147.5 1130.0 1130.0 C1118.3 1112.5 1111.7 1101.7 1100.0 1095.0 C1088.3 1088.3 1070.0 1089.2 1060.0 1090.0 C1050.0 1090.8 1045.0 1086.7 1040.0 1100.0 Z" fill="#9dd3a7"/>
<path d="M1620.0 1040.0 C1624.2 1027.5 1642.5 1026.7 1650.0 1035.0 C1657.5 1043.3 1665.8 1069.2 1665.0 1090.0 C1664.2 1110.8 1651.7 1156.7 1645.0 1160.0 C1638.3 1163.3 1629.2 1130.0 1625.0 1110.0 C1620.8 1090.0 1615.8 1052.5 1620.0 1040.0 Z" fill="#9dd3a7"/>
</g>
<g transform="translate(2980,1320) scale(0.37507)">
<path d="M1430.0 72.0 C1458.3 72.8 1490.0 77.0 1520.0 90.0 C1550.0 103.0 1583.3 123.3 1610.0 150.0 C1636.7 176.7 1661.7 213.3 1680.0 250.0 C1698.3 286.7 1712.5 331.7 1720.0 370.0 C1727.5 408.3 1730.0 446.7 1725.0 480.0 C1720.0 513.3 1707.5 543.3 1690.0 570.0 C1672.5 596.7 1646.7 624.2 1620.0 640.0 C1593.3 655.8 1560.0 663.3 1530.0 665.0 C1500.0 666.7 1466.7 662.5 1440.0 650.0 C1413.3 637.5 1387.5 615.0 1370.0 590.0 C1352.5 565.0 1344.2 531.7 1335.0 500.0 C1325.8 468.3 1322.5 433.3 1315.0 400.0 C1307.5 366.7 1297.5 331.7 1290.0 300.0 C1282.5 268.3 1270.0 238.3 1270.0 210.0 C1270.0 181.7 1276.7 150.8 1290.0 130.0 C1303.3 109.2 1326.7 94.7 1350.0 85.0 C1373.3 75.3 1401.7 71.2 1430.0 72.0 Z" fill="#78bd85" stroke="#86c693" stroke-width="8"/>
<path d="M1575.0 195.0 C1585.0 193.3 1604.2 185.8 1620.0 200.0 C1635.8 214.2 1656.7 248.3 1670.0 280.0 C1683.3 311.7 1696.7 355.0 1700.0 390.0 C1703.3 425.0 1700.0 460.0 1690.0 490.0 C1680.0 520.0 1661.7 548.3 1640.0 570.0 C1618.3 591.7 1586.7 611.7 1560.0 620.0 C1533.3 628.3 1500.0 625.0 1480.0 620.0 C1460.0 615.0 1445.0 600.0 1440.0 590.0 C1435.0 580.0 1440.0 567.5 1450.0 560.0 C1460.0 552.5 1481.7 551.7 1500.0 545.0 C1518.3 538.3 1543.3 534.2 1560.0 520.0 C1576.7 505.8 1590.0 483.3 1600.0 460.0 C1610.0 436.7 1618.3 406.7 1620.0 380.0 C1621.7 353.3 1616.7 323.3 1610.0 300.0 C1603.3 276.7 1588.3 255.0 1580.0 240.0 C1571.7 225.0 1560.8 217.5 1560.0 210.0 C1559.2 202.5 1565.0 196.7 1575.0 195.0 Z" fill="#9dd3a7"/>
<path d="M1465.0 135.0 C1471.7 130.0 1494.2 122.5 1510.0 125.0 C1525.8 127.5 1550.8 143.3 1560.0 150.0 C1569.2 156.7 1573.3 162.5 1565.0 165.0 C1556.7 167.5 1525.8 166.7 1510.0 165.0 C1494.2 163.3 1477.5 160.0 1470.0 155.0 C1462.5 150.0 1458.3 140.0 1465.0 135.0 Z" fill="#9dd3a7"/>
<path d="M440.0 915.0 C461.7 916.7 496.7 922.5 520.0 935.0 C543.3 947.5 565.0 967.5 580.0 990.0 C595.0 1012.5 603.0 1041.7 610.0 1070.0 C617.0 1098.3 623.7 1130.0 622.0 1160.0 C620.3 1190.0 613.7 1220.0 600.0 1250.0 C586.3 1280.0 566.7 1313.3 540.0 1340.0 C513.3 1366.7 475.0 1392.5 440.0 1410.0 C405.0 1427.5 366.7 1440.0 330.0 1445.0 C293.3 1450.0 253.3 1449.2 220.0 1440.0 C186.7 1430.8 152.5 1411.7 130.0 1390.0 C107.5 1368.3 93.7 1336.7 85.0 1310.0 C76.3 1283.3 73.8 1255.0 78.0 1230.0 C82.2 1205.0 93.0 1181.7 110.0 1160.0 C127.0 1138.3 155.0 1120.0 180.0 1100.0 C205.0 1080.0 235.0 1061.7 260.0 1040.0 C285.0 1018.3 308.3 989.2 330.0 970.0 C351.7 950.8 371.7 934.2 390.0 925.0 C408.3 915.8 418.3 913.3 440.0 915.0 Z" fill="#78bd85" stroke="#86c693" stroke-width="8"/>
<path d="M110.0 1255.0 C107.5 1267.5 106.7 1290.8 115.0 1310.0 C123.3 1329.2 139.2 1355.0 160.0 1370.0 C180.8 1385.0 210.0 1395.8 240.0 1400.0 C270.0 1404.2 306.7 1403.3 340.0 1395.0 C373.3 1386.7 410.0 1367.5 440.0 1350.0 C470.0 1332.5 500.8 1310.0 520.0 1290.0 C539.2 1270.0 550.8 1245.0 555.0 1230.0 C559.2 1215.0 552.5 1205.8 545.0 1200.0 C537.5 1194.2 522.5 1190.0 510.0 1195.0 C497.5 1200.0 488.3 1215.8 470.0 1230.0 C451.7 1244.2 425.0 1267.5 400.0 1280.0 C375.0 1292.5 346.7 1302.5 320.0 1305.0 C293.3 1307.5 261.7 1302.5 240.0 1295.0 C218.3 1287.5 203.3 1270.0 190.0 1260.0 C176.7 1250.0 170.0 1239.2 160.0 1235.0 C150.0 1230.8 138.3 1231.7 130.0 1235.0 C121.7 1238.3 112.5 1242.5 110.0 1255.0 Z" fill="#9dd3a7"/>
<path d="M540.0 1075.0 C543.3 1070.0 553.3 1064.2 560.0 1070.0 C566.7 1075.8 575.0 1094.2 580.0 1110.0 C585.0 1125.8 592.5 1161.7 590.0 1165.0 C587.5 1168.3 573.3 1140.8 565.0 1130.0 C556.7 1119.2 544.2 1109.2 540.0 1100.0 C535.8 1090.8 536.7 1080.0 540.0 1075.0 Z" fill="#9dd3a7"/>
<path d="M1200.0 875.0 C1221.7 877.5 1253.3 880.8 1280.0 895.0 C1306.7 909.2 1336.7 934.2 1360.0 960.0 C1383.3 985.8 1406.7 1018.3 1420.0 1050.0 C1433.3 1081.7 1438.3 1116.7 1440.0 1150.0 C1441.7 1183.3 1438.3 1218.3 1430.0 1250.0 C1421.7 1281.7 1408.3 1311.7 1390.0 1340.0 C1371.7 1368.3 1346.7 1399.2 1320.0 1420.0 C1293.3 1440.8 1261.7 1456.7 1230.0 1465.0 C1198.3 1473.3 1160.0 1477.5 1130.0 1470.0 C1100.0 1462.5 1071.7 1441.7 1050.0 1420.0 C1028.3 1398.3 1010.8 1368.3 1000.0 1340.0 C989.2 1311.7 983.3 1280.0 985.0 1250.0 C986.7 1220.0 1000.8 1190.0 1010.0 1160.0 C1019.2 1130.0 1030.8 1100.0 1040.0 1070.0 C1049.2 1040.0 1053.3 1007.5 1065.0 980.0 C1076.7 952.5 1095.8 921.7 1110.0 905.0 C1124.2 888.3 1135.0 885.0 1150.0 880.0 C1165.0 875.0 1178.3 872.5 1200.0 875.0 Z" fill="#78bd85" stroke="#86c693" stroke-width="8"/>
<path d="M1345.0 1090.0 C1353.3 1085.8 1378.3 1075.0 1390.0 1085.0 C1401.7 1095.0 1411.7 1122.5 1415.0 1150.0 C1418.3 1177.5 1417.5 1220.0 1410.0 1250.0 C1402.5 1280.0 1388.3 1306.7 1370.0 1330.0 C1351.7 1353.3 1328.3 1375.0 1300.0 1390.0 C1271.7 1405.0 1233.3 1415.8 1200.0 1420.0 C1166.7 1424.2 1125.8 1421.7 1100.0 1415.0 C1074.2 1408.3 1054.2 1391.7 1045.0 1380.0 C1035.8 1368.3 1039.2 1353.3 1045.0 1345.0 C1050.8 1336.7 1062.5 1330.8 1080.0 1330.0 C1097.5 1329.2 1125.0 1343.3 1150.0 1340.0 C1175.0 1336.7 1205.0 1325.0 1230.0 1310.0 C1255.0 1295.0 1281.7 1273.3 1300.0 1250.0 C1318.3 1226.7 1333.3 1193.3 1340.0 1170.0 C1346.7 1146.7 1339.2 1123.3 1340.0 1110.0 C1340.8 1096.7 1336.7 1094.2 1345.0 1090.0 Z" fill="#9dd3a7"/>
<path d="M1300.0 970.0 C1304.2 965.8 1318.3 960.0 1330.0 965.0 C1341.7 970.0 1361.7 988.3 1370.0 1000.0 C1378.3 1011.7 1385.0 1032.5 1380.0 1035.0 C1375.0 1037.5 1352.5 1022.5 1340.0 1015.0 C1327.5 1007.5 1311.7 997.5 1305.0 990.0 C1298.3 982.5 1295.8 974.2 1300.0 970.0 Z" fill="#9dd3a7"/>
</g>
<!-- petri dishes -->
<defs><g id="dish"><path d="M23.80000000000001 2682.5 A417.0 227.0 0 0 1 857.8 2682.5 V2834.0 A417.0 227.0 0 0 1 23.80000000000001 2834.0 Z" fill="#e9f0fa" stroke="#2c5db0" stroke-width="12"/>
<clipPath id="dishin"><path d="M37.30000000000001 2682.5 A403.5 204.5 0 0 1 844.3 2682.5 V2834.0 A403.5 213 0 0 1 37.30000000000001 2834.0 Z"/></clipPath>
<path d="M37.30000000000001 2682.5 A403.5 204.5 0 0 1 844.3 2682.5 V2834.0 A403.5 213 0 0 1 37.30000000000001 2834.0 Z" fill="#d4e3f6" stroke="#4775bd" stroke-width="2.4"/>
<path d="M43.30000000000001 2874.0 A403.5 213 0 0 0 838.3 2874.0" fill="none" stroke="#f4f8fd" stroke-width="3.5" transform="translate(0,-2)"/>
<path d="M33.0 2736.4 A407.8 206.9 0 0 0 848.6 2736.4 L839.6 2736.4 A398.8 187.4 0 0 1 42.0 2736.4 Z" fill="#fafcff" clip-path="url(#dishin)"/>
<ellipse cx="440.8" cy="2736.4" rx="398.8" ry="187.4" fill="#c6d9f2" stroke="#3f6fba" stroke-width="2.4"/>
<path d="M42.0 2736.4 A398.8 187.4 0 0 1 839.6 2736.4 A398.8 152.7 0 0 0 42.0 2736.4 Z" fill="#bdd2ef" stroke="#3f6fba" stroke-width="2"/></g>
<g id="callus" transform="translate(340,2520) scale(0.14341)"><path d="M930.0 130.0 C958.3 130.0 990.0 140.0 1010.0 160.0 C1030.0 180.0 1026.7 228.3 1050.0 250.0 C1073.3 271.7 1120.0 271.7 1150.0 290.0 C1180.0 308.3 1200.0 347.5 1230.0 360.0 C1260.0 372.5 1295.0 358.3 1330.0 365.0 C1365.0 371.7 1415.8 360.8 1440.0 400.0 C1464.2 439.2 1466.7 536.7 1475.0 600.0 C1483.3 663.3 1470.8 741.7 1490.0 780.0 C1509.2 818.3 1565.0 793.3 1590.0 830.0 C1615.0 866.7 1638.3 955.0 1640.0 1000.0 C1641.7 1045.0 1623.3 1063.3 1600.0 1100.0 C1576.7 1136.7 1558.3 1198.3 1500.0 1220.0 C1441.7 1241.7 1316.7 1220.8 1250.0 1230.0 C1183.3 1239.2 1166.7 1271.7 1100.0 1275.0 C1033.3 1278.3 908.3 1244.2 850.0 1250.0 C791.7 1255.8 798.3 1304.2 750.0 1310.0 C701.7 1315.8 611.7 1306.7 560.0 1285.0 C508.3 1263.3 485.0 1202.5 440.0 1180.0 C395.0 1157.5 340.0 1175.0 290.0 1150.0 C240.0 1125.0 158.3 1080.0 140.0 1030.0 C121.7 980.0 160.0 896.7 180.0 850.0 C200.0 803.3 245.0 793.3 260.0 750.0 C275.0 706.7 241.7 633.3 270.0 590.0 C298.3 546.7 375.0 521.7 430.0 490.0 C485.0 458.3 555.0 433.3 600.0 400.0 C645.0 366.7 665.0 316.7 700.0 290.0 C735.0 263.3 786.7 261.7 810.0 240.0 C833.3 218.3 820.0 178.3 840.0 160.0 C860.0 141.7 901.7 130.0 930.0 130.0 Z" fill="#66b572"/>
<path d="M930.0 150.0 C963.3 140.8 998.3 176.7 1020.0 200.0 C1041.7 223.3 1033.3 268.3 1060.0 290.0 C1086.7 311.7 1133.3 311.7 1180.0 330.0 C1226.7 348.3 1305.0 361.7 1340.0 400.0 C1375.0 438.3 1385.0 493.3 1390.0 560.0 C1395.0 626.7 1380.0 738.3 1370.0 800.0 C1360.0 861.7 1350.0 886.7 1330.0 930.0 C1310.0 973.3 1295.0 1028.3 1250.0 1060.0 C1205.0 1091.7 1101.7 1095.0 1060.0 1120.0 C1018.3 1145.0 1035.0 1191.7 1000.0 1210.0 C965.0 1228.3 893.3 1216.7 850.0 1230.0 C806.7 1243.3 786.7 1284.2 740.0 1290.0 C693.3 1295.8 618.3 1286.7 570.0 1265.0 C521.7 1243.3 495.0 1182.5 450.0 1160.0 C405.0 1137.5 347.5 1153.3 300.0 1130.0 C252.5 1106.7 181.7 1065.0 165.0 1020.0 C148.3 975.0 180.8 903.3 200.0 860.0 C219.2 816.7 265.0 803.3 280.0 760.0 C295.0 716.7 263.3 641.7 290.0 600.0 C316.7 558.3 386.7 540.8 440.0 510.0 C493.3 479.2 565.0 449.2 610.0 415.0 C655.0 380.8 675.0 331.7 710.0 305.0 C745.0 278.3 783.3 280.8 820.0 255.0 C856.7 229.2 896.7 159.2 930.0 150.0 Z" fill="#8fcd9a"/>
<ellipse cx="930" cy="245" rx="122" ry="120" fill="#9ed4a6" stroke="#84c690" stroke-width="7"/>
<ellipse cx="800" cy="388" rx="120" ry="103" transform="rotate(-10 800 388)" fill="#9ed4a6" stroke="#84c690" stroke-width="7"/>
<ellipse cx="1040" cy="400" rx="141" ry="98" transform="rotate(30 1040 400)" fill="#9ed4a6" stroke="#84c690" stroke-width="7"/>
<ellipse cx="1225" cy="485" rx="184" ry="107" transform="rotate(-25 1225 485)" fill="#9ed4a6" stroke="#84c690" stroke-width="7"/>
<ellipse cx="600" cy="505" rx="171" ry="105" transform="rotate(-15 600 505)" fill="#9ed4a6" stroke="#84c690" stroke-width="7"/>
<ellipse cx="860" cy="598" rx="169" ry="94" transform="rotate(-8 860 598)" fill="#9ed4a6" stroke="#84c690" stroke-width="7"/>
<ellipse cx="480" cy="675" rx="246" ry="123" transform="rotate(10 480 675)" fill="#9ed4a6" stroke="#84c690" stroke-width="7"/>
<ellipse cx="900" cy="838" rx="205" ry="188" fill="#9ed4a6" stroke="#84c690" stroke-width="7"/>
<ellipse cx="1234" cy="760" rx="124" ry="163" transform="rotate(-5 1234 760)" fill="#9ed4a6" stroke="#84c690" stroke-width="7"/>
<ellipse cx="290" cy="890" rx="118" ry="98" fill="#9ed4a6" stroke="#84c690" stroke-width="7"/>
<ellipse cx="545" cy="935" rx="166" ry="131" fill="#9ed4a6" stroke="#84c690" stroke-width="7"/>
<ellipse cx="440" cy="1055" rx="144" ry="88" transform="rotate(-10 440 1055)" fill="#9ed4a6" stroke="#84c690" stroke-width="7"/>
<ellipse cx="230" cy="1020" rx="88" ry="64" transform="rotate(10 230 1020)" fill="#9ed4a6" stroke="#84c690" stroke-width="7"/>
<ellipse cx="670" cy="1152" rx="201" ry="146" transform="rotate(-5 670 1152)" fill="#9ed4a6" stroke="#84c690" stroke-width="7"/>
<ellipse cx="940" cy="1122" rx="64" ry="90" transform="rotate(10 940 1122)" fill="#9ed4a6" stroke="#84c690" stroke-width="7"/>
<ellipse cx="1130" cy="1002" rx="143" ry="64" transform="rotate(-15 1130 1002)" fill="#9ed4a6" stroke="#84c690" stroke-width="7"/>
<ellipse cx="1490" cy="860" rx="75" ry="35" transform="rotate(-20 1490 860)" fill="#9ed4a6" stroke="#84c690" stroke-width="7"/>
<ellipse cx="1420" cy="1110" rx="86" ry="35" transform="rotate(-15 1420 1110)" fill="#9ed4a6" stroke="#84c690" stroke-width="7"/>
<path d="M330 575 L420 580" stroke="#c4e8c8" stroke-width="14" stroke-linecap="round"/>
<path d="M800 700 L890 670" stroke="#c4e8c8" stroke-width="14" stroke-linecap="round"/>
<path d="M540 885 L640 890" stroke="#c4e8c8" stroke-width="14" stroke-linecap="round"/>
<path d="M300 850 L330 870" stroke="#c4e8c8" stroke-width="14" stroke-linecap="round"/>
<path d="M880 185 L930 175" stroke="#c4e8c8" stroke-width="14" stroke-linecap="round"/></g></defs>
<use href="#dish"/>
<use href="#callus"/>
<use href="#callus" transform="translate(-198.5,144.9)"/>
<use href="#callus" transform="translate(132.1,155.9)"/>
<use href="#dish" transform="translate(2748.4,15.5)"/>
<g transform="translate(2820,2580) scale(0.25372)"><path d="M320.0 435.0 C351.7 436.7 391.7 439.2 420.0 455.0 C448.3 470.8 475.8 502.5 490.0 530.0 C504.2 557.5 508.3 591.7 505.0 620.0 C501.7 648.3 487.5 678.3 470.0 700.0 C452.5 721.7 426.7 733.3 400.0 750.0 C373.3 766.7 338.3 785.0 310.0 800.0 C281.7 815.0 256.7 834.2 230.0 840.0 C203.3 845.8 173.3 845.0 150.0 835.0 C126.7 825.0 104.2 804.2 90.0 780.0 C75.8 755.8 66.7 721.7 65.0 690.0 C63.3 658.3 67.5 621.7 80.0 590.0 C92.5 558.3 115.0 524.2 140.0 500.0 C165.0 475.8 200.0 455.8 230.0 445.0 C260.0 434.2 288.3 433.3 320.0 435.0 Z" fill="#78bd85" stroke="#86c693" stroke-width="7"/>
<path d="M130.0 610.0 C133.3 593.3 141.7 551.7 160.0 530.0 C178.3 508.3 208.3 490.0 240.0 480.0 C271.7 470.0 316.7 465.0 350.0 470.0 C383.3 475.0 418.3 491.7 440.0 510.0 C461.7 528.3 475.0 560.8 480.0 580.0 C485.0 599.2 476.7 616.7 470.0 625.0 C463.3 633.3 450.0 634.2 440.0 630.0 C430.0 625.8 423.3 611.7 410.0 600.0 C396.7 588.3 380.0 568.3 360.0 560.0 C340.0 551.7 313.3 546.7 290.0 550.0 C266.7 553.3 240.0 568.3 220.0 580.0 C200.0 591.7 183.3 611.7 170.0 620.0 C156.7 628.3 146.7 631.7 140.0 630.0 C133.3 628.3 126.7 626.7 130.0 610.0 Z" fill="#9dd3a7"/>
<path d="M95.0 650.0 C96.7 641.7 105.0 633.3 110.0 640.0 C115.0 646.7 124.2 678.3 125.0 690.0 C125.8 701.7 119.2 710.0 115.0 710.0 C110.8 710.0 103.3 700.0 100.0 690.0 C96.7 680.0 93.3 658.3 95.0 650.0 Z" fill="#9dd3a7"/>
<path d="M740.0 190.0 C771.7 190.8 818.3 196.7 850.0 210.0 C881.7 223.3 910.0 246.7 930.0 270.0 C950.0 293.3 966.7 323.3 970.0 350.0 C973.3 376.7 963.3 408.3 950.0 430.0 C936.7 451.7 915.0 466.7 890.0 480.0 C865.0 493.3 831.7 500.8 800.0 510.0 C768.3 519.2 731.7 528.3 700.0 535.0 C668.3 541.7 636.7 554.2 610.0 550.0 C583.3 545.8 556.7 530.0 540.0 510.0 C523.3 490.0 511.7 458.3 510.0 430.0 C508.3 401.7 516.7 368.3 530.0 340.0 C543.3 311.7 568.3 282.5 590.0 260.0 C611.7 237.5 635.0 216.7 660.0 205.0 C685.0 193.3 708.3 189.2 740.0 190.0 Z" fill="#f6ea6a" stroke="#f8ee7c" stroke-width="7"/>
<path d="M610.0 300.0 C618.3 288.3 651.7 260.8 680.0 250.0 C708.3 239.2 748.3 232.5 780.0 235.0 C811.7 237.5 845.0 249.2 870.0 265.0 C895.0 280.8 918.3 307.5 930.0 330.0 C941.7 352.5 943.3 385.0 940.0 400.0 C936.7 415.0 920.0 421.7 910.0 420.0 C900.0 418.3 891.7 405.0 880.0 390.0 C868.3 375.0 858.3 345.0 840.0 330.0 C821.7 315.0 795.0 305.0 770.0 300.0 C745.0 295.0 713.3 296.7 690.0 300.0 C666.7 303.3 643.3 320.0 630.0 320.0 C616.7 320.0 601.7 311.7 610.0 300.0 Z" fill="#faf293"/>
<path d="M1290.0 70.0 C1320.0 72.5 1368.3 76.7 1400.0 90.0 C1431.7 103.3 1459.2 125.0 1480.0 150.0 C1500.8 175.0 1518.3 210.0 1525.0 240.0 C1531.7 270.0 1529.2 304.2 1520.0 330.0 C1510.8 355.8 1491.7 381.7 1470.0 395.0 C1448.3 408.3 1420.0 410.0 1390.0 410.0 C1360.0 410.0 1325.0 400.0 1290.0 395.0 C1255.0 390.0 1211.7 389.2 1180.0 380.0 C1148.3 370.8 1119.2 360.0 1100.0 340.0 C1080.8 320.0 1067.5 288.3 1065.0 260.0 C1062.5 231.7 1070.8 195.8 1085.0 170.0 C1099.2 144.2 1127.5 120.8 1150.0 105.0 C1172.5 89.2 1196.7 80.8 1220.0 75.0 C1243.3 69.2 1260.0 67.5 1290.0 70.0 Z" fill="#f6ea6a" stroke="#f8ee7c" stroke-width="7"/>
<path d="M1150.0 190.0 C1155.0 178.3 1175.0 144.2 1200.0 130.0 C1225.0 115.8 1266.7 105.0 1300.0 105.0 C1333.3 105.0 1371.7 114.2 1400.0 130.0 C1428.3 145.8 1455.0 173.3 1470.0 200.0 C1485.0 226.7 1490.0 266.7 1490.0 290.0 C1490.0 313.3 1478.3 333.3 1470.0 340.0 C1461.7 346.7 1448.3 341.7 1440.0 330.0 C1431.7 318.3 1431.7 291.7 1420.0 270.0 C1408.3 248.3 1391.7 216.7 1370.0 200.0 C1348.3 183.3 1316.7 174.2 1290.0 170.0 C1263.3 165.8 1230.0 170.0 1210.0 175.0 C1190.0 180.0 1180.0 197.5 1170.0 200.0 C1160.0 202.5 1145.0 201.7 1150.0 190.0 Z" fill="#faf293"/>
<path d="M710.0 610.0 C730.0 610.8 755.0 616.7 770.0 630.0 C785.0 643.3 795.0 665.0 800.0 690.0 C805.0 715.0 803.3 751.7 800.0 780.0 C796.7 808.3 791.7 840.0 780.0 860.0 C768.3 880.0 748.3 895.0 730.0 900.0 C711.7 905.0 688.3 900.0 670.0 890.0 C651.7 880.0 631.7 861.7 620.0 840.0 C608.3 818.3 601.7 786.7 600.0 760.0 C598.3 733.3 601.7 702.5 610.0 680.0 C618.3 657.5 633.3 636.7 650.0 625.0 C666.7 613.3 690.0 609.2 710.0 610.0 Z" fill="#f6ea6a" stroke="#f8ee7c" stroke-width="7"/>
<path d="M640.0 700.0 C644.2 675.0 651.7 660.8 665.0 650.0 C678.3 639.2 705.8 635.0 720.0 635.0 C734.2 635.0 750.0 644.2 750.0 650.0 C750.0 655.8 731.7 661.7 720.0 670.0 C708.3 678.3 690.0 683.3 680.0 700.0 C670.0 716.7 663.3 748.3 660.0 770.0 C656.7 791.7 663.3 825.0 660.0 830.0 C656.7 835.0 643.3 821.7 640.0 800.0 C636.7 778.3 635.8 725.0 640.0 700.0 Z" fill="#faf293"/>
<path d="M1200.0 425.0 C1221.7 425.8 1250.8 430.8 1270.0 445.0 C1289.2 459.2 1305.8 485.8 1315.0 510.0 C1324.2 534.2 1329.2 561.7 1325.0 590.0 C1320.8 618.3 1307.5 653.3 1290.0 680.0 C1272.5 706.7 1246.7 730.0 1220.0 750.0 C1193.3 770.0 1161.7 788.3 1130.0 800.0 C1098.3 811.7 1061.7 821.7 1030.0 820.0 C998.3 818.3 965.0 806.7 940.0 790.0 C915.0 773.3 892.5 745.0 880.0 720.0 C867.5 695.0 861.7 665.0 865.0 640.0 C868.3 615.0 880.8 590.0 900.0 570.0 C919.2 550.0 951.7 535.0 980.0 520.0 C1008.3 505.0 1043.3 493.3 1070.0 480.0 C1096.7 466.7 1118.3 449.2 1140.0 440.0 C1161.7 430.8 1178.3 424.2 1200.0 425.0 Z" fill="#78bd85" stroke="#86c693" stroke-width="7"/>
<path d="M895.0 640.0 C893.3 654.2 890.8 680.0 900.0 700.0 C909.2 720.0 926.7 745.0 950.0 760.0 C973.3 775.0 1008.3 788.3 1040.0 790.0 C1071.7 791.7 1110.0 781.7 1140.0 770.0 C1170.0 758.3 1200.0 736.7 1220.0 720.0 C1240.0 703.3 1256.7 681.7 1260.0 670.0 C1263.3 658.3 1251.7 646.7 1240.0 650.0 C1228.3 653.3 1211.7 678.3 1190.0 690.0 C1168.3 701.7 1136.7 715.0 1110.0 720.0 C1083.3 725.0 1053.3 726.7 1030.0 720.0 C1006.7 713.3 985.0 695.0 970.0 680.0 C955.0 665.0 950.0 640.8 940.0 630.0 C930.0 619.2 917.5 613.3 910.0 615.0 C902.5 616.7 896.7 625.8 895.0 640.0 Z" fill="#9dd3a7"/>
<path d="M1255.0 575.0 C1257.5 565.8 1269.2 559.2 1275.0 565.0 C1280.8 570.8 1290.0 595.8 1290.0 610.0 C1290.0 624.2 1280.0 648.3 1275.0 650.0 C1270.0 651.7 1263.3 632.5 1260.0 620.0 C1256.7 607.5 1252.5 584.2 1255.0 575.0 Z" fill="#9dd3a7"/>
<path d="M1560.0 480.0 C1585.0 482.5 1625.0 486.7 1650.0 500.0 C1675.0 513.3 1696.7 536.7 1710.0 560.0 C1723.3 583.3 1731.7 611.7 1730.0 640.0 C1728.3 668.3 1711.7 700.0 1700.0 730.0 C1688.3 760.0 1673.3 791.7 1660.0 820.0 C1646.7 848.3 1636.7 878.3 1620.0 900.0 C1603.3 921.7 1583.3 942.5 1560.0 950.0 C1536.7 957.5 1505.0 955.0 1480.0 945.0 C1455.0 935.0 1428.3 914.2 1410.0 890.0 C1391.7 865.8 1378.3 831.7 1370.0 800.0 C1361.7 768.3 1356.7 733.3 1360.0 700.0 C1363.3 666.7 1376.7 630.0 1390.0 600.0 C1403.3 570.0 1421.7 539.2 1440.0 520.0 C1458.3 500.8 1480.0 491.7 1500.0 485.0 C1520.0 478.3 1535.0 477.5 1560.0 480.0 Z" fill="#f6ea6a" stroke="#f8ee7c" stroke-width="7"/>
<path d="M1400.0 800.0 C1393.3 775.0 1386.7 731.7 1390.0 700.0 C1393.3 668.3 1406.7 636.7 1420.0 610.0 C1433.3 583.3 1448.3 556.7 1470.0 540.0 C1491.7 523.3 1521.7 511.7 1550.0 510.0 C1578.3 508.3 1616.7 516.7 1640.0 530.0 C1663.3 543.3 1686.7 578.3 1690.0 590.0 C1693.3 601.7 1675.0 601.7 1660.0 600.0 C1645.0 598.3 1621.7 581.7 1600.0 580.0 C1578.3 578.3 1550.0 580.0 1530.0 590.0 C1510.0 600.0 1493.3 618.3 1480.0 640.0 C1466.7 661.7 1456.7 693.3 1450.0 720.0 C1443.3 746.7 1443.3 778.3 1440.0 800.0 C1436.7 821.7 1436.7 850.0 1430.0 850.0 C1423.3 850.0 1406.7 825.0 1400.0 800.0 Z" fill="#faf293"/>
<path d="M370.0 845.0 C388.3 845.8 416.7 850.8 440.0 860.0 C463.3 869.2 486.7 887.5 510.0 900.0 C533.3 912.5 560.8 920.0 580.0 935.0 C599.2 950.0 616.7 970.8 625.0 990.0 C633.3 1009.2 635.8 1031.7 630.0 1050.0 C624.2 1068.3 608.3 1086.7 590.0 1100.0 C571.7 1113.3 545.0 1124.2 520.0 1130.0 C495.0 1135.8 466.7 1140.0 440.0 1135.0 C413.3 1130.0 383.3 1115.8 360.0 1100.0 C336.7 1084.2 315.0 1063.3 300.0 1040.0 C285.0 1016.7 271.7 985.0 270.0 960.0 C268.3 935.0 280.0 907.5 290.0 890.0 C300.0 872.5 316.7 862.5 330.0 855.0 C343.3 847.5 351.7 844.2 370.0 845.0 Z" fill="#78bd85" stroke="#86c693" stroke-width="7"/>
<path d="M300.0 900.0 C292.5 914.2 281.7 945.0 285.0 970.0 C288.3 995.0 302.5 1027.5 320.0 1050.0 C337.5 1072.5 365.0 1093.3 390.0 1105.0 C415.0 1116.7 448.3 1120.8 470.0 1120.0 C491.7 1119.2 516.7 1105.0 520.0 1100.0 C523.3 1095.0 505.0 1094.2 490.0 1090.0 C475.0 1085.8 448.3 1085.0 430.0 1075.0 C411.7 1065.0 392.5 1047.5 380.0 1030.0 C367.5 1012.5 359.2 990.0 355.0 970.0 C350.8 950.0 359.2 924.2 355.0 910.0 C350.8 895.8 339.2 886.7 330.0 885.0 C320.8 883.3 307.5 885.8 300.0 900.0 Z" fill="#9dd3a7"/>
<path d="M530.0 1095.0 C530.0 1090.0 552.5 1069.2 560.0 1065.0 C567.5 1060.8 575.0 1065.0 575.0 1070.0 C575.0 1075.0 567.5 1090.8 560.0 1095.0 C552.5 1099.2 530.0 1100.0 530.0 1095.0 Z" fill="#9dd3a7"/>
<path d="M900.0 940.0 C923.3 936.7 953.3 942.5 980.0 950.0 C1006.7 957.5 1031.7 975.0 1060.0 985.0 C1088.3 995.0 1121.7 1000.8 1150.0 1010.0 C1178.3 1019.2 1208.3 1025.0 1230.0 1040.0 C1251.7 1055.0 1270.8 1076.7 1280.0 1100.0 C1289.2 1123.3 1291.7 1155.0 1285.0 1180.0 C1278.3 1205.0 1260.8 1230.8 1240.0 1250.0 C1219.2 1269.2 1190.0 1285.8 1160.0 1295.0 C1130.0 1304.2 1093.3 1307.5 1060.0 1305.0 C1026.7 1302.5 990.0 1294.2 960.0 1280.0 C930.0 1265.8 901.7 1245.0 880.0 1220.0 C858.3 1195.0 841.7 1160.0 830.0 1130.0 C818.3 1100.0 808.3 1066.7 810.0 1040.0 C811.7 1013.3 825.0 986.7 840.0 970.0 C855.0 953.3 876.7 943.3 900.0 940.0 Z" fill="#f6ea6a" stroke="#f8ee7c" stroke-width="7"/>
<path d="M850.0 1000.0 C841.7 1015.8 828.3 1051.7 830.0 1080.0 C831.7 1108.3 845.0 1143.3 860.0 1170.0 C875.0 1196.7 895.0 1221.7 920.0 1240.0 C945.0 1258.3 980.0 1272.5 1010.0 1280.0 C1040.0 1287.5 1081.7 1287.5 1100.0 1285.0 C1118.3 1282.5 1126.7 1270.8 1120.0 1265.0 C1113.3 1259.2 1081.7 1259.2 1060.0 1250.0 C1038.3 1240.8 1010.0 1228.3 990.0 1210.0 C970.0 1191.7 951.7 1165.0 940.0 1140.0 C928.3 1115.0 925.0 1083.3 920.0 1060.0 C915.0 1036.7 916.7 1012.5 910.0 1000.0 C903.3 987.5 890.0 985.0 880.0 985.0 C870.0 985.0 858.3 984.2 850.0 1000.0 Z" fill="#faf293"/></g>
<g transform="translate(3160,2580) scale(0.25372)"><path d="M410.0 95.0 C430.0 96.7 460.8 107.5 480.0 125.0 C499.2 142.5 517.5 172.5 525.0 200.0 C532.5 227.5 530.8 261.7 525.0 290.0 C519.2 318.3 507.5 348.3 490.0 370.0 C472.5 391.7 445.0 410.0 420.0 420.0 C395.0 430.0 362.5 435.0 340.0 430.0 C317.5 425.0 297.0 408.3 285.0 390.0 C273.0 371.7 267.2 345.0 268.0 320.0 C268.8 295.0 281.3 265.0 290.0 240.0 C298.7 215.0 308.3 190.8 320.0 170.0 C331.7 149.2 345.0 127.5 360.0 115.0 C375.0 102.5 390.0 93.3 410.0 95.0 Z" fill="#f6ea6a" stroke="#f8ee7c" stroke-width="7"/>
<path d="M470.0 170.0 C475.8 168.3 500.0 198.3 505.0 220.0 C510.0 241.7 507.5 275.0 500.0 300.0 C492.5 325.0 478.3 352.5 460.0 370.0 C441.7 387.5 413.3 400.0 390.0 405.0 C366.7 410.0 335.0 405.8 320.0 400.0 C305.0 394.2 296.7 376.7 300.0 370.0 C303.3 363.3 321.7 365.0 340.0 360.0 C358.3 355.0 390.8 351.7 410.0 340.0 C429.2 328.3 445.0 308.3 455.0 290.0 C465.0 271.7 467.5 250.0 470.0 230.0 C472.5 210.0 464.2 171.7 470.0 170.0 Z" fill="#faf293"/>
<path d="M880.0 300.0 C908.3 297.5 937.5 305.0 960.0 320.0 C982.5 335.0 1003.3 363.3 1015.0 390.0 C1026.7 416.7 1032.5 450.0 1030.0 480.0 C1027.5 510.0 1016.7 541.7 1000.0 570.0 C983.3 598.3 956.7 626.7 930.0 650.0 C903.3 673.3 871.7 697.5 840.0 710.0 C808.3 722.5 770.0 728.3 740.0 725.0 C710.0 721.7 681.7 707.5 660.0 690.0 C638.3 672.5 619.2 645.0 610.0 620.0 C600.8 595.0 598.3 565.0 605.0 540.0 C611.7 515.0 630.8 493.3 650.0 470.0 C669.2 446.7 696.7 422.5 720.0 400.0 C743.3 377.5 763.3 351.7 790.0 335.0 C816.7 318.3 851.7 302.5 880.0 300.0 Z" fill="#f6ea6a" stroke="#f8ee7c" stroke-width="7"/>
<path d="M640.0 580.0 C640.0 591.7 645.0 621.7 660.0 640.0 C675.0 658.3 701.7 683.3 730.0 690.0 C758.3 696.7 798.3 690.0 830.0 680.0 C861.7 670.0 893.3 651.7 920.0 630.0 C946.7 608.3 975.0 575.0 990.0 550.0 C1005.0 525.0 1010.0 501.7 1010.0 480.0 C1010.0 458.3 996.7 421.7 990.0 420.0 C983.3 418.3 981.7 448.3 970.0 470.0 C958.3 491.7 940.0 528.3 920.0 550.0 C900.0 571.7 875.0 588.3 850.0 600.0 C825.0 611.7 795.0 620.0 770.0 620.0 C745.0 620.0 718.3 608.3 700.0 600.0 C681.7 591.7 670.0 573.3 660.0 570.0 C650.0 566.7 640.0 568.3 640.0 580.0 Z" fill="#faf293"/>
<path d="M1470.0 615.0 C1490.0 617.5 1520.8 624.2 1540.0 640.0 C1559.2 655.8 1576.7 683.3 1585.0 710.0 C1593.3 736.7 1595.8 770.0 1590.0 800.0 C1584.2 830.0 1570.0 863.3 1550.0 890.0 C1530.0 916.7 1500.0 941.7 1470.0 960.0 C1440.0 978.3 1403.3 993.3 1370.0 1000.0 C1336.7 1006.7 1300.0 1006.7 1270.0 1000.0 C1240.0 993.3 1211.7 978.3 1190.0 960.0 C1168.3 941.7 1150.0 915.0 1140.0 890.0 C1130.0 865.0 1125.0 835.0 1130.0 810.0 C1135.0 785.0 1150.0 759.2 1170.0 740.0 C1190.0 720.8 1220.0 709.2 1250.0 695.0 C1280.0 680.8 1321.7 666.7 1350.0 655.0 C1378.3 643.3 1400.0 631.7 1420.0 625.0 C1440.0 618.3 1450.0 612.5 1470.0 615.0 Z" fill="#78bd85" stroke="#86c693" stroke-width="7"/>
<path d="M1160.0 820.0 C1157.5 835.0 1158.3 868.3 1170.0 890.0 C1181.7 911.7 1205.0 935.8 1230.0 950.0 C1255.0 964.2 1288.3 975.0 1320.0 975.0 C1351.7 975.0 1390.0 962.5 1420.0 950.0 C1450.0 937.5 1480.0 916.7 1500.0 900.0 C1520.0 883.3 1536.7 860.8 1540.0 850.0 C1543.3 839.2 1531.7 831.7 1520.0 835.0 C1508.3 838.3 1491.7 859.2 1470.0 870.0 C1448.3 880.8 1416.7 895.0 1390.0 900.0 C1363.3 905.0 1333.3 905.0 1310.0 900.0 C1286.7 895.0 1265.8 883.3 1250.0 870.0 C1234.2 856.7 1225.8 831.7 1215.0 820.0 C1204.2 808.3 1194.2 800.0 1185.0 800.0 C1175.8 800.0 1162.5 805.0 1160.0 820.0 Z" fill="#9dd3a7"/>
<path d="M1530.0 760.0 C1533.3 751.7 1545.0 743.3 1550.0 750.0 C1555.0 756.7 1560.8 785.0 1560.0 800.0 C1559.2 815.0 1550.0 840.0 1545.0 840.0 C1540.0 840.0 1532.5 813.3 1530.0 800.0 C1527.5 786.7 1526.7 768.3 1530.0 760.0 Z" fill="#9dd3a7"/>
<path d="M960.0 890.0 C981.7 888.3 1003.3 896.7 1020.0 910.0 C1036.7 923.3 1051.7 946.7 1060.0 970.0 C1068.3 993.3 1073.3 1023.3 1070.0 1050.0 C1066.7 1076.7 1055.0 1106.7 1040.0 1130.0 C1025.0 1153.3 1003.3 1175.8 980.0 1190.0 C956.7 1204.2 925.0 1213.3 900.0 1215.0 C875.0 1216.7 850.0 1210.8 830.0 1200.0 C810.0 1189.2 790.8 1168.3 780.0 1150.0 C769.2 1131.7 763.3 1110.0 765.0 1090.0 C766.7 1070.0 777.5 1048.3 790.0 1030.0 C802.5 1011.7 823.3 998.3 840.0 980.0 C856.7 961.7 870.0 935.0 890.0 920.0 C910.0 905.0 938.3 891.7 960.0 890.0 Z" fill="#78bd85" stroke="#86c693" stroke-width="7"/>
<path d="M790.0 1110.0 C790.0 1120.8 798.3 1145.8 810.0 1160.0 C821.7 1174.2 838.3 1191.7 860.0 1195.0 C881.7 1198.3 916.7 1190.8 940.0 1180.0 C963.3 1169.2 983.3 1148.3 1000.0 1130.0 C1016.7 1111.7 1036.7 1083.3 1040.0 1070.0 C1043.3 1056.7 1031.7 1045.0 1020.0 1050.0 C1008.3 1055.0 990.0 1086.7 970.0 1100.0 C950.0 1113.3 921.7 1126.7 900.0 1130.0 C878.3 1133.3 855.0 1125.8 840.0 1120.0 C825.0 1114.2 818.3 1096.7 810.0 1095.0 C801.7 1093.3 790.0 1099.2 790.0 1110.0 Z" fill="#9dd3a7"/>
<path d="M1015.0 975.0 C1015.8 966.7 1030.0 964.2 1035.0 970.0 C1040.0 975.8 1045.8 1001.7 1045.0 1010.0 C1044.2 1018.3 1035.0 1025.8 1030.0 1020.0 C1025.0 1014.2 1014.2 983.3 1015.0 975.0 Z" fill="#9dd3a7"/>
<path d="M330.0 1065.0 C356.7 1061.7 388.3 1068.8 420.0 1070.0 C451.7 1071.2 488.3 1070.7 520.0 1072.0 C551.7 1073.3 585.0 1071.7 610.0 1078.0 C635.0 1084.3 655.0 1093.0 670.0 1110.0 C685.0 1127.0 696.7 1155.0 700.0 1180.0 C703.3 1205.0 700.0 1233.3 690.0 1260.0 C680.0 1286.7 661.7 1319.2 640.0 1340.0 C618.3 1360.8 590.0 1375.8 560.0 1385.0 C530.0 1394.2 493.3 1397.5 460.0 1395.0 C426.7 1392.5 390.0 1384.2 360.0 1370.0 C330.0 1355.8 301.7 1333.3 280.0 1310.0 C258.3 1286.7 239.7 1256.7 230.0 1230.0 C220.3 1203.3 217.0 1173.3 222.0 1150.0 C227.0 1126.7 242.0 1104.2 260.0 1090.0 C278.0 1075.8 303.3 1068.3 330.0 1065.0 Z" fill="#78bd85" stroke="#86c693" stroke-width="7"/>
<path d="M260.0 1130.0 C252.5 1144.2 241.7 1173.3 245.0 1200.0 C248.3 1226.7 262.5 1265.0 280.0 1290.0 C297.5 1315.0 321.7 1335.8 350.0 1350.0 C378.3 1364.2 418.3 1372.5 450.0 1375.0 C481.7 1377.5 520.0 1371.7 540.0 1365.0 C560.0 1358.3 573.3 1342.5 570.0 1335.0 C566.7 1327.5 541.7 1325.8 520.0 1320.0 C498.3 1314.2 465.0 1311.7 440.0 1300.0 C415.0 1288.3 388.3 1270.0 370.0 1250.0 C351.7 1230.0 338.3 1200.0 330.0 1180.0 C321.7 1160.0 326.7 1140.8 320.0 1130.0 C313.3 1119.2 300.0 1115.0 290.0 1115.0 C280.0 1115.0 267.5 1115.8 260.0 1130.0 Z" fill="#9dd3a7"/>
<path d="M610.0 1270.0 C615.0 1260.8 625.0 1243.3 630.0 1245.0 C635.0 1246.7 642.5 1267.5 640.0 1280.0 C637.5 1292.5 621.7 1316.7 615.0 1320.0 C608.3 1323.3 600.8 1308.3 600.0 1300.0 C599.2 1291.7 605.0 1279.2 610.0 1270.0 Z" fill="#9dd3a7"/></g>
<!-- edited leaves -->
<defs><g id="eleaf" transform="translate(1680,3300) scale(0.24458)"><path d="M560.0 1555.0 C536.7 1566.7 535.0 1630.8 500.0 1670.0 C465.0 1709.2 400.0 1755.0 350.0 1790.0 C300.0 1825.0 244.7 1853.0 200.0 1880.0 C155.3 1907.0 102.0 1936.0 82.0 1952.0 C62.0 1968.0 57.0 1979.7 80.0 1976.0 C103.0 1972.3 166.7 1953.5 220.0 1930.0 C273.3 1906.5 343.3 1865.8 400.0 1835.0 C456.7 1804.2 510.0 1773.3 560.0 1745.0 C610.0 1716.7 686.7 1689.2 700.0 1665.0 C713.3 1640.8 663.3 1618.3 640.0 1600.0 C616.7 1581.7 583.3 1543.3 560.0 1555.0 Z" fill="#69a872"/>
<path d="M570.0 1570.0 C575.0 1555.0 594.2 1508.3 600.0 1480.0 C605.8 1451.7 607.5 1430.0 605.0 1400.0 C602.5 1370.0 595.8 1335.0 585.0 1300.0 C574.2 1265.0 555.8 1228.3 540.0 1190.0 C524.2 1151.7 505.0 1108.3 490.0 1070.0 C475.0 1031.7 459.2 998.3 450.0 960.0 C440.8 921.7 434.2 878.3 435.0 840.0 C435.8 801.7 440.8 763.3 455.0 730.0 C469.2 696.7 489.2 671.7 520.0 640.0 C550.8 608.3 595.0 573.3 640.0 540.0 C685.0 506.7 740.0 473.3 790.0 440.0 C840.0 406.7 891.7 373.3 940.0 340.0 C988.3 306.7 1036.7 271.7 1080.0 240.0 C1123.3 208.3 1172.5 170.0 1200.0 150.0 C1227.5 130.0 1237.5 125.0 1245.0 120.0 C1254.2 138.3 1277.5 186.7 1300.0 230.0 C1322.5 273.3 1351.7 328.3 1380.0 380.0 C1408.3 431.7 1440.0 486.7 1470.0 540.0 C1500.0 593.3 1535.0 650.0 1560.0 700.0 C1585.0 750.0 1606.7 796.7 1620.0 840.0 C1633.3 883.3 1639.2 916.7 1640.0 960.0 C1640.8 1003.3 1636.7 1053.3 1625.0 1100.0 C1613.3 1146.7 1594.2 1195.0 1570.0 1240.0 C1545.8 1285.0 1513.3 1335.0 1480.0 1370.0 C1446.7 1405.0 1410.0 1429.2 1370.0 1450.0 C1330.0 1470.8 1285.0 1483.3 1240.0 1495.0 C1195.0 1506.7 1148.3 1510.8 1100.0 1520.0 C1051.7 1529.2 996.7 1538.3 950.0 1550.0 C903.3 1561.7 861.7 1575.0 820.0 1590.0 C778.3 1605.0 733.3 1627.0 700.0 1640.0 C666.7 1653.0 633.3 1663.3 620.0 1668.0 Z" fill="#98cca0" stroke="#69a872" stroke-width="54" stroke-linejoin="round"/>
<path d="M585.0 1650.0 C603.2 1619.7 658.2 1535.0 694.0 1468.0 C729.8 1401.0 768.3 1318.0 800.0 1248.0 C831.7 1178.0 859.5 1113.0 884.0 1048.0 C908.5 983.0 924.3 923.0 947.0 858.0 C969.7 793.0 992.5 725.0 1020.0 658.0 C1047.5 591.0 1081.0 514.8 1112.0 456.0 C1143.0 397.2 1190.3 330.2 1206.0 305.0 L1216 315 C1201.7 340.5 1158.7 409.5 1130.0 468.0 C1101.3 526.5 1069.3 599.3 1044.0 666.0 C1018.7 732.7 998.3 802.7 978.0 868.0 C957.7 933.3 943.7 991.7 922.0 1058.0 C900.3 1124.3 875.8 1193.2 848.0 1266.0 C820.2 1338.8 786.3 1425.2 755.0 1495.0 C723.7 1564.8 675.8 1653.3 660.0 1685.0 Z" fill="#69a872"/>
<path d="M762.0 1340.0 C760.3 1316.7 757.0 1241.7 752.0 1200.0 C747.0 1158.3 740.7 1125.8 732.0 1090.0 C723.3 1054.2 705.3 1002.5 700.0 985.0" fill="none" stroke="#69a872" stroke-width="19" stroke-linecap="round"/>
<path d="M925.0 925.0 C937.5 914.5 970.8 879.8 1000.0 862.0 C1029.2 844.2 1071.7 827.3 1100.0 818.0 C1128.3 808.7 1158.3 808.0 1170.0 806.0" fill="none" stroke="#69a872" stroke-width="16" stroke-linecap="round"/>
<path d="M1195 805 L1250 812" fill="none" stroke="#69a872" stroke-width="10" stroke-linecap="round"/>
<path d="M815.0 1260.0 C829.2 1238.3 869.2 1164.7 900.0 1130.0 C930.8 1095.3 961.7 1069.3 1000.0 1052.0 C1038.3 1034.7 1083.3 1027.0 1130.0 1026.0 C1176.7 1025.0 1255.0 1042.7 1280.0 1046.0" fill="none" stroke="#69a872" stroke-width="17" stroke-linecap="round"/>
<path d="M1280.0 1046.0 C1295.0 1049.7 1341.7 1059.0 1370.0 1068.0 C1398.3 1077.0 1436.7 1094.7 1450.0 1100.0" fill="none" stroke="#69a872" stroke-width="10" stroke-linecap="round"/></g></defs>
<use href="#eleaf"/>
<polygon points="1848.3,3467.5 1858.9,3500.0 1893.0,3500.0 1865.4,3520.0 1875.9,3552.5 1848.3,3532.5 1820.7,3552.5 1831.2,3520.0 1803.6,3500.0 1837.7,3500.0" fill="#f3da2b"/>
<polygon points="1951.5,3551.9 1962.1,3584.4 1996.2,3584.4 1968.6,3604.4 1979.1,3636.9 1951.5,3616.9 1923.9,3636.9 1934.4,3604.4 1906.8,3584.4 1940.9,3584.4" fill="#f3da2b"/>
<use href="#eleaf" transform="translate(-318.8,461.7)"/>
<polygon points="1531.3,3931.0 1541.9,3963.5 1576.0,3963.5 1548.4,3983.5 1558.9,4016.0 1531.3,3996.0 1503.7,4016.0 1514.2,3983.5 1486.6,3963.5 1520.7,3963.5" fill="#f3da2b"/>
<polygon points="1634.5,4015.4 1645.1,4047.9 1679.2,4047.9 1651.6,4067.9 1662.1,4100.4 1634.5,4080.4 1606.9,4100.4 1617.4,4067.9 1589.8,4047.9 1623.9,4047.9" fill="#f3da2b"/>
<use href="#eleaf" transform="translate(122.5,415.5)"/>
<polygon points="1969.8,3895.5 1980.4,3928.0 2014.5,3928.0 1986.9,3948.0 1997.4,3980.5 1969.8,3960.5 1942.2,3980.5 1952.7,3948.0 1925.1,3928.0 1959.2,3928.0" fill="#f3da2b"/>
<polygon points="2073.0,3979.9 2083.6,4012.4 2117.7,4012.4 2090.1,4032.4 2100.6,4064.9 2073.0,4044.9 2045.4,4064.9 2055.9,4032.4 2028.3,4012.4 2062.4,4012.4" fill="#f3da2b"/>
<polygon points="3065.0,3956.7 3085.1,4018.6 3150.2,4018.6 3097.6,4056.9 3117.7,4118.8 3065.0,4080.5 3012.3,4118.8 3032.4,4056.9 2979.8,4018.6 3044.9,4018.6" fill="#f2da2c"/>
</svg>
</body></html>
